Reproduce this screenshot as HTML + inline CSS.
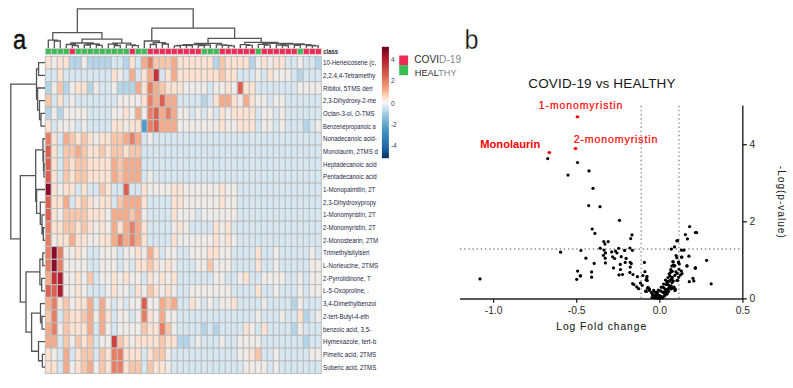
<!DOCTYPE html>
<html><head><meta charset="utf-8"><title>Figure</title>
<style>
html,body{margin:0;padding:0;background:#fff;}
body{width:793px;height:388px;overflow:hidden;}
svg{display:block;}
text{font-family:"Liberation Sans", sans-serif;}
</style></head><body>
<svg width="793" height="388" viewBox="0 0 793 388">
<rect x="0" y="0" width="793" height="388" fill="#ffffff"/>

<g stroke="#bdbdbd" stroke-width="1">
<rect x="45.30" y="56.30" width="6.00" height="12.69" fill="#fde2d1"/>
<rect x="51.30" y="56.30" width="6.00" height="12.69" fill="#efebe9"/>
<rect x="57.30" y="56.30" width="6.00" height="12.69" fill="#fde2d1"/>
<rect x="63.30" y="56.30" width="6.00" height="12.69" fill="#fde2d1"/>
<rect x="69.30" y="56.30" width="6.00" height="12.69" fill="#b3d5ea"/>
<rect x="75.30" y="56.30" width="6.00" height="12.69" fill="#b3d5ea"/>
<rect x="81.30" y="56.30" width="6.00" height="12.69" fill="#efebe9"/>
<rect x="87.30" y="56.30" width="6.00" height="12.69" fill="#b3d5ea"/>
<rect x="93.30" y="56.30" width="6.00" height="12.69" fill="#b3d5ea"/>
<rect x="99.30" y="56.30" width="6.00" height="12.69" fill="#b3d5ea"/>
<rect x="105.30" y="56.30" width="6.00" height="12.69" fill="#b3d5ea"/>
<rect x="111.30" y="56.30" width="6.00" height="12.69" fill="#d6e7f2"/>
<rect x="117.30" y="56.30" width="6.00" height="12.69" fill="#d6e7f2"/>
<rect x="123.30" y="56.30" width="6.00" height="12.69" fill="#b3d5ea"/>
<rect x="129.30" y="56.30" width="6.00" height="12.69" fill="#fde2d1"/>
<rect x="135.30" y="56.30" width="6.00" height="12.69" fill="#d6e7f2"/>
<rect x="141.30" y="56.30" width="6.00" height="12.69" fill="#f5ab89"/>
<rect x="147.30" y="56.30" width="6.00" height="12.69" fill="#e77f65"/>
<rect x="153.30" y="56.30" width="6.00" height="12.69" fill="#f9c6aa"/>
<rect x="159.30" y="56.30" width="6.00" height="12.69" fill="#f9c6aa"/>
<rect x="165.30" y="56.30" width="6.00" height="12.69" fill="#f9c6aa"/>
<rect x="171.30" y="56.30" width="6.00" height="12.69" fill="#f5ab89"/>
<rect x="177.30" y="56.30" width="6.00" height="12.69" fill="#fde2d1"/>
<rect x="183.30" y="56.30" width="6.00" height="12.69" fill="#fde2d1"/>
<rect x="189.30" y="56.30" width="6.00" height="12.69" fill="#fde2d1"/>
<rect x="195.30" y="56.30" width="6.00" height="12.69" fill="#fde2d1"/>
<rect x="201.30" y="56.30" width="6.00" height="12.69" fill="#fde2d1"/>
<rect x="207.30" y="56.30" width="6.00" height="12.69" fill="#fde2d1"/>
<rect x="213.30" y="56.30" width="6.00" height="12.69" fill="#b3d5ea"/>
<rect x="219.30" y="56.30" width="6.00" height="12.69" fill="#f9c6aa"/>
<rect x="225.30" y="56.30" width="6.00" height="12.69" fill="#fde2d1"/>
<rect x="231.30" y="56.30" width="6.00" height="12.69" fill="#fde2d1"/>
<rect x="237.30" y="56.30" width="6.00" height="12.69" fill="#fde2d1"/>
<rect x="243.30" y="56.30" width="6.00" height="12.69" fill="#fde2d1"/>
<rect x="249.30" y="56.30" width="6.00" height="12.69" fill="#b3d5ea"/>
<rect x="255.30" y="56.30" width="6.00" height="12.69" fill="#efebe9"/>
<rect x="261.30" y="56.30" width="6.00" height="12.69" fill="#fde2d1"/>
<rect x="267.30" y="56.30" width="6.00" height="12.69" fill="#efebe9"/>
<rect x="273.30" y="56.30" width="6.00" height="12.69" fill="#fde2d1"/>
<rect x="279.30" y="56.30" width="6.00" height="12.69" fill="#fde2d1"/>
<rect x="285.30" y="56.30" width="6.00" height="12.69" fill="#d6e7f2"/>
<rect x="291.30" y="56.30" width="6.00" height="12.69" fill="#d6e7f2"/>
<rect x="297.30" y="56.30" width="6.00" height="12.69" fill="#efebe9"/>
<rect x="303.30" y="56.30" width="6.00" height="12.69" fill="#d6e7f2"/>
<rect x="309.30" y="56.30" width="6.00" height="12.69" fill="#d6e7f2"/>
<rect x="315.30" y="56.30" width="6.00" height="12.69" fill="#b3d5ea"/>
<rect x="45.30" y="68.98" width="6.00" height="12.69" fill="#d6e7f2"/>
<rect x="51.30" y="68.98" width="6.00" height="12.69" fill="#d6e7f2"/>
<rect x="57.30" y="68.98" width="6.00" height="12.69" fill="#fde2d1"/>
<rect x="63.30" y="68.98" width="6.00" height="12.69" fill="#d6e7f2"/>
<rect x="69.30" y="68.98" width="6.00" height="12.69" fill="#d6e7f2"/>
<rect x="75.30" y="68.98" width="6.00" height="12.69" fill="#d6e7f2"/>
<rect x="81.30" y="68.98" width="6.00" height="12.69" fill="#d6e7f2"/>
<rect x="87.30" y="68.98" width="6.00" height="12.69" fill="#d6e7f2"/>
<rect x="93.30" y="68.98" width="6.00" height="12.69" fill="#d6e7f2"/>
<rect x="99.30" y="68.98" width="6.00" height="12.69" fill="#d6e7f2"/>
<rect x="105.30" y="68.98" width="6.00" height="12.69" fill="#d6e7f2"/>
<rect x="111.30" y="68.98" width="6.00" height="12.69" fill="#fde2d1"/>
<rect x="117.30" y="68.98" width="6.00" height="12.69" fill="#efebe9"/>
<rect x="123.30" y="68.98" width="6.00" height="12.69" fill="#d6e7f2"/>
<rect x="129.30" y="68.98" width="6.00" height="12.69" fill="#f5ab89"/>
<rect x="135.30" y="68.98" width="6.00" height="12.69" fill="#d6e7f2"/>
<rect x="141.30" y="68.98" width="6.00" height="12.69" fill="#fde2d1"/>
<rect x="147.30" y="68.98" width="6.00" height="12.69" fill="#f5ab89"/>
<rect x="153.30" y="68.98" width="6.00" height="12.69" fill="#c5303b"/>
<rect x="159.30" y="68.98" width="6.00" height="12.69" fill="#d6e7f2"/>
<rect x="165.30" y="68.98" width="6.00" height="12.69" fill="#fde2d1"/>
<rect x="171.30" y="68.98" width="6.00" height="12.69" fill="#f5ab89"/>
<rect x="177.30" y="68.98" width="6.00" height="12.69" fill="#fde2d1"/>
<rect x="183.30" y="68.98" width="6.00" height="12.69" fill="#fde2d1"/>
<rect x="189.30" y="68.98" width="6.00" height="12.69" fill="#fde2d1"/>
<rect x="195.30" y="68.98" width="6.00" height="12.69" fill="#fde2d1"/>
<rect x="201.30" y="68.98" width="6.00" height="12.69" fill="#fde2d1"/>
<rect x="207.30" y="68.98" width="6.00" height="12.69" fill="#fde2d1"/>
<rect x="213.30" y="68.98" width="6.00" height="12.69" fill="#fde2d1"/>
<rect x="219.30" y="68.98" width="6.00" height="12.69" fill="#f9c6aa"/>
<rect x="225.30" y="68.98" width="6.00" height="12.69" fill="#fde2d1"/>
<rect x="231.30" y="68.98" width="6.00" height="12.69" fill="#fde2d1"/>
<rect x="237.30" y="68.98" width="6.00" height="12.69" fill="#d6e7f2"/>
<rect x="243.30" y="68.98" width="6.00" height="12.69" fill="#d6e7f2"/>
<rect x="249.30" y="68.98" width="6.00" height="12.69" fill="#d6e7f2"/>
<rect x="255.30" y="68.98" width="6.00" height="12.69" fill="#efebe9"/>
<rect x="261.30" y="68.98" width="6.00" height="12.69" fill="#d6e7f2"/>
<rect x="267.30" y="68.98" width="6.00" height="12.69" fill="#fde2d1"/>
<rect x="273.30" y="68.98" width="6.00" height="12.69" fill="#efebe9"/>
<rect x="279.30" y="68.98" width="6.00" height="12.69" fill="#efebe9"/>
<rect x="285.30" y="68.98" width="6.00" height="12.69" fill="#efebe9"/>
<rect x="291.30" y="68.98" width="6.00" height="12.69" fill="#d6e7f2"/>
<rect x="297.30" y="68.98" width="6.00" height="12.69" fill="#b3d5ea"/>
<rect x="303.30" y="68.98" width="6.00" height="12.69" fill="#d6e7f2"/>
<rect x="309.30" y="68.98" width="6.00" height="12.69" fill="#d6e7f2"/>
<rect x="315.30" y="68.98" width="6.00" height="12.69" fill="#d6e7f2"/>
<rect x="45.30" y="81.67" width="6.00" height="12.69" fill="#b3d5ea"/>
<rect x="51.30" y="81.67" width="6.00" height="12.69" fill="#efebe9"/>
<rect x="57.30" y="81.67" width="6.00" height="12.69" fill="#f9c6aa"/>
<rect x="63.30" y="81.67" width="6.00" height="12.69" fill="#b3d5ea"/>
<rect x="69.30" y="81.67" width="6.00" height="12.69" fill="#efebe9"/>
<rect x="75.30" y="81.67" width="6.00" height="12.69" fill="#fde2d1"/>
<rect x="81.30" y="81.67" width="6.00" height="12.69" fill="#fde2d1"/>
<rect x="87.30" y="81.67" width="6.00" height="12.69" fill="#b3d5ea"/>
<rect x="93.30" y="81.67" width="6.00" height="12.69" fill="#efebe9"/>
<rect x="99.30" y="81.67" width="6.00" height="12.69" fill="#d6e7f2"/>
<rect x="105.30" y="81.67" width="6.00" height="12.69" fill="#d6e7f2"/>
<rect x="111.30" y="81.67" width="6.00" height="12.69" fill="#efebe9"/>
<rect x="117.30" y="81.67" width="6.00" height="12.69" fill="#b3d5ea"/>
<rect x="123.30" y="81.67" width="6.00" height="12.69" fill="#b3d5ea"/>
<rect x="129.30" y="81.67" width="6.00" height="12.69" fill="#b3d5ea"/>
<rect x="135.30" y="81.67" width="6.00" height="12.69" fill="#f5ab89"/>
<rect x="141.30" y="81.67" width="6.00" height="12.69" fill="#fde2d1"/>
<rect x="147.30" y="81.67" width="6.00" height="12.69" fill="#e77f65"/>
<rect x="153.30" y="81.67" width="6.00" height="12.69" fill="#f5ab89"/>
<rect x="159.30" y="81.67" width="6.00" height="12.69" fill="#f9c6aa"/>
<rect x="165.30" y="81.67" width="6.00" height="12.69" fill="#fde2d1"/>
<rect x="171.30" y="81.67" width="6.00" height="12.69" fill="#fde2d1"/>
<rect x="177.30" y="81.67" width="6.00" height="12.69" fill="#fde2d1"/>
<rect x="183.30" y="81.67" width="6.00" height="12.69" fill="#efebe9"/>
<rect x="189.30" y="81.67" width="6.00" height="12.69" fill="#efebe9"/>
<rect x="195.30" y="81.67" width="6.00" height="12.69" fill="#efebe9"/>
<rect x="201.30" y="81.67" width="6.00" height="12.69" fill="#efebe9"/>
<rect x="207.30" y="81.67" width="6.00" height="12.69" fill="#d6e7f2"/>
<rect x="213.30" y="81.67" width="6.00" height="12.69" fill="#efebe9"/>
<rect x="219.30" y="81.67" width="6.00" height="12.69" fill="#efebe9"/>
<rect x="225.30" y="81.67" width="6.00" height="12.69" fill="#fde2d1"/>
<rect x="231.30" y="81.67" width="6.00" height="12.69" fill="#efebe9"/>
<rect x="237.30" y="81.67" width="6.00" height="12.69" fill="#dc604f"/>
<rect x="243.30" y="81.67" width="6.00" height="12.69" fill="#fde2d1"/>
<rect x="249.30" y="81.67" width="6.00" height="12.69" fill="#fde2d1"/>
<rect x="255.30" y="81.67" width="6.00" height="12.69" fill="#d6e7f2"/>
<rect x="261.30" y="81.67" width="6.00" height="12.69" fill="#d6e7f2"/>
<rect x="267.30" y="81.67" width="6.00" height="12.69" fill="#d6e7f2"/>
<rect x="273.30" y="81.67" width="6.00" height="12.69" fill="#d6e7f2"/>
<rect x="279.30" y="81.67" width="6.00" height="12.69" fill="#d6e7f2"/>
<rect x="285.30" y="81.67" width="6.00" height="12.69" fill="#d6e7f2"/>
<rect x="291.30" y="81.67" width="6.00" height="12.69" fill="#d6e7f2"/>
<rect x="297.30" y="81.67" width="6.00" height="12.69" fill="#efebe9"/>
<rect x="303.30" y="81.67" width="6.00" height="12.69" fill="#efebe9"/>
<rect x="309.30" y="81.67" width="6.00" height="12.69" fill="#efebe9"/>
<rect x="315.30" y="81.67" width="6.00" height="12.69" fill="#efebe9"/>
<rect x="45.30" y="94.35" width="6.00" height="12.69" fill="#f9c6aa"/>
<rect x="51.30" y="94.35" width="6.00" height="12.69" fill="#d6e7f2"/>
<rect x="57.30" y="94.35" width="6.00" height="12.69" fill="#fde2d1"/>
<rect x="63.30" y="94.35" width="6.00" height="12.69" fill="#d6e7f2"/>
<rect x="69.30" y="94.35" width="6.00" height="12.69" fill="#efebe9"/>
<rect x="75.30" y="94.35" width="6.00" height="12.69" fill="#d6e7f2"/>
<rect x="81.30" y="94.35" width="6.00" height="12.69" fill="#d6e7f2"/>
<rect x="87.30" y="94.35" width="6.00" height="12.69" fill="#d6e7f2"/>
<rect x="93.30" y="94.35" width="6.00" height="12.69" fill="#d6e7f2"/>
<rect x="99.30" y="94.35" width="6.00" height="12.69" fill="#d6e7f2"/>
<rect x="105.30" y="94.35" width="6.00" height="12.69" fill="#d6e7f2"/>
<rect x="111.30" y="94.35" width="6.00" height="12.69" fill="#d6e7f2"/>
<rect x="117.30" y="94.35" width="6.00" height="12.69" fill="#efebe9"/>
<rect x="123.30" y="94.35" width="6.00" height="12.69" fill="#efebe9"/>
<rect x="129.30" y="94.35" width="6.00" height="12.69" fill="#efebe9"/>
<rect x="135.30" y="94.35" width="6.00" height="12.69" fill="#efebe9"/>
<rect x="141.30" y="94.35" width="6.00" height="12.69" fill="#fde2d1"/>
<rect x="147.30" y="94.35" width="6.00" height="12.69" fill="#e77f65"/>
<rect x="153.30" y="94.35" width="6.00" height="12.69" fill="#f5ab89"/>
<rect x="159.30" y="94.35" width="6.00" height="12.69" fill="#dc604f"/>
<rect x="165.30" y="94.35" width="6.00" height="12.69" fill="#f5ab89"/>
<rect x="171.30" y="94.35" width="6.00" height="12.69" fill="#f5ab89"/>
<rect x="177.30" y="94.35" width="6.00" height="12.69" fill="#d6e7f2"/>
<rect x="183.30" y="94.35" width="6.00" height="12.69" fill="#d6e7f2"/>
<rect x="189.30" y="94.35" width="6.00" height="12.69" fill="#d6e7f2"/>
<rect x="195.30" y="94.35" width="6.00" height="12.69" fill="#d6e7f2"/>
<rect x="201.30" y="94.35" width="6.00" height="12.69" fill="#b3d5ea"/>
<rect x="207.30" y="94.35" width="6.00" height="12.69" fill="#d6e7f2"/>
<rect x="213.30" y="94.35" width="6.00" height="12.69" fill="#fde2d1"/>
<rect x="219.30" y="94.35" width="6.00" height="12.69" fill="#f5ab89"/>
<rect x="225.30" y="94.35" width="6.00" height="12.69" fill="#f5ab89"/>
<rect x="231.30" y="94.35" width="6.00" height="12.69" fill="#fde2d1"/>
<rect x="237.30" y="94.35" width="6.00" height="12.69" fill="#efebe9"/>
<rect x="243.30" y="94.35" width="6.00" height="12.69" fill="#f5ab89"/>
<rect x="249.30" y="94.35" width="6.00" height="12.69" fill="#fde2d1"/>
<rect x="255.30" y="94.35" width="6.00" height="12.69" fill="#efebe9"/>
<rect x="261.30" y="94.35" width="6.00" height="12.69" fill="#efebe9"/>
<rect x="267.30" y="94.35" width="6.00" height="12.69" fill="#d6e7f2"/>
<rect x="273.30" y="94.35" width="6.00" height="12.69" fill="#efebe9"/>
<rect x="279.30" y="94.35" width="6.00" height="12.69" fill="#efebe9"/>
<rect x="285.30" y="94.35" width="6.00" height="12.69" fill="#d6e7f2"/>
<rect x="291.30" y="94.35" width="6.00" height="12.69" fill="#d6e7f2"/>
<rect x="297.30" y="94.35" width="6.00" height="12.69" fill="#d6e7f2"/>
<rect x="303.30" y="94.35" width="6.00" height="12.69" fill="#d6e7f2"/>
<rect x="309.30" y="94.35" width="6.00" height="12.69" fill="#d6e7f2"/>
<rect x="315.30" y="94.35" width="6.00" height="12.69" fill="#d6e7f2"/>
<rect x="45.30" y="107.04" width="6.00" height="12.69" fill="#b3d5ea"/>
<rect x="51.30" y="107.04" width="6.00" height="12.69" fill="#efebe9"/>
<rect x="57.30" y="107.04" width="6.00" height="12.69" fill="#b3d5ea"/>
<rect x="63.30" y="107.04" width="6.00" height="12.69" fill="#efebe9"/>
<rect x="69.30" y="107.04" width="6.00" height="12.69" fill="#efebe9"/>
<rect x="75.30" y="107.04" width="6.00" height="12.69" fill="#efebe9"/>
<rect x="81.30" y="107.04" width="6.00" height="12.69" fill="#efebe9"/>
<rect x="87.30" y="107.04" width="6.00" height="12.69" fill="#d6e7f2"/>
<rect x="93.30" y="107.04" width="6.00" height="12.69" fill="#d6e7f2"/>
<rect x="99.30" y="107.04" width="6.00" height="12.69" fill="#d6e7f2"/>
<rect x="105.30" y="107.04" width="6.00" height="12.69" fill="#d6e7f2"/>
<rect x="111.30" y="107.04" width="6.00" height="12.69" fill="#efebe9"/>
<rect x="117.30" y="107.04" width="6.00" height="12.69" fill="#efebe9"/>
<rect x="123.30" y="107.04" width="6.00" height="12.69" fill="#fde2d1"/>
<rect x="129.30" y="107.04" width="6.00" height="12.69" fill="#efebe9"/>
<rect x="135.30" y="107.04" width="6.00" height="12.69" fill="#f5ab89"/>
<rect x="141.30" y="107.04" width="6.00" height="12.69" fill="#efebe9"/>
<rect x="147.30" y="107.04" width="6.00" height="12.69" fill="#e77f65"/>
<rect x="153.30" y="107.04" width="6.00" height="12.69" fill="#dc604f"/>
<rect x="159.30" y="107.04" width="6.00" height="12.69" fill="#f5ab89"/>
<rect x="165.30" y="107.04" width="6.00" height="12.69" fill="#e77f65"/>
<rect x="171.30" y="107.04" width="6.00" height="12.69" fill="#f5ab89"/>
<rect x="177.30" y="107.04" width="6.00" height="12.69" fill="#efebe9"/>
<rect x="183.30" y="107.04" width="6.00" height="12.69" fill="#efebe9"/>
<rect x="189.30" y="107.04" width="6.00" height="12.69" fill="#d6e7f2"/>
<rect x="195.30" y="107.04" width="6.00" height="12.69" fill="#efebe9"/>
<rect x="201.30" y="107.04" width="6.00" height="12.69" fill="#d6e7f2"/>
<rect x="207.30" y="107.04" width="6.00" height="12.69" fill="#efebe9"/>
<rect x="213.30" y="107.04" width="6.00" height="12.69" fill="#d6e7f2"/>
<rect x="219.30" y="107.04" width="6.00" height="12.69" fill="#fde2d1"/>
<rect x="225.30" y="107.04" width="6.00" height="12.69" fill="#efebe9"/>
<rect x="231.30" y="107.04" width="6.00" height="12.69" fill="#fde2d1"/>
<rect x="237.30" y="107.04" width="6.00" height="12.69" fill="#fde2d1"/>
<rect x="243.30" y="107.04" width="6.00" height="12.69" fill="#fde2d1"/>
<rect x="249.30" y="107.04" width="6.00" height="12.69" fill="#fde2d1"/>
<rect x="255.30" y="107.04" width="6.00" height="12.69" fill="#d6e7f2"/>
<rect x="261.30" y="107.04" width="6.00" height="12.69" fill="#efebe9"/>
<rect x="267.30" y="107.04" width="6.00" height="12.69" fill="#efebe9"/>
<rect x="273.30" y="107.04" width="6.00" height="12.69" fill="#d6e7f2"/>
<rect x="279.30" y="107.04" width="6.00" height="12.69" fill="#efebe9"/>
<rect x="285.30" y="107.04" width="6.00" height="12.69" fill="#d6e7f2"/>
<rect x="291.30" y="107.04" width="6.00" height="12.69" fill="#d6e7f2"/>
<rect x="297.30" y="107.04" width="6.00" height="12.69" fill="#d6e7f2"/>
<rect x="303.30" y="107.04" width="6.00" height="12.69" fill="#d6e7f2"/>
<rect x="309.30" y="107.04" width="6.00" height="12.69" fill="#d6e7f2"/>
<rect x="315.30" y="107.04" width="6.00" height="12.69" fill="#d6e7f2"/>
<rect x="45.30" y="119.72" width="6.00" height="12.69" fill="#fde2d1"/>
<rect x="51.30" y="119.72" width="6.00" height="12.69" fill="#d6e7f2"/>
<rect x="57.30" y="119.72" width="6.00" height="12.69" fill="#efebe9"/>
<rect x="63.30" y="119.72" width="6.00" height="12.69" fill="#efebe9"/>
<rect x="69.30" y="119.72" width="6.00" height="12.69" fill="#efebe9"/>
<rect x="75.30" y="119.72" width="6.00" height="12.69" fill="#d6e7f2"/>
<rect x="81.30" y="119.72" width="6.00" height="12.69" fill="#efebe9"/>
<rect x="87.30" y="119.72" width="6.00" height="12.69" fill="#d6e7f2"/>
<rect x="93.30" y="119.72" width="6.00" height="12.69" fill="#d6e7f2"/>
<rect x="99.30" y="119.72" width="6.00" height="12.69" fill="#d6e7f2"/>
<rect x="105.30" y="119.72" width="6.00" height="12.69" fill="#d6e7f2"/>
<rect x="111.30" y="119.72" width="6.00" height="12.69" fill="#fde2d1"/>
<rect x="117.30" y="119.72" width="6.00" height="12.69" fill="#fde2d1"/>
<rect x="123.30" y="119.72" width="6.00" height="12.69" fill="#efebe9"/>
<rect x="129.30" y="119.72" width="6.00" height="12.69" fill="#fde2d1"/>
<rect x="135.30" y="119.72" width="6.00" height="12.69" fill="#fde2d1"/>
<rect x="141.30" y="119.72" width="6.00" height="12.69" fill="#4f9ccf"/>
<rect x="147.30" y="119.72" width="6.00" height="12.69" fill="#e77f65"/>
<rect x="153.30" y="119.72" width="6.00" height="12.69" fill="#dc604f"/>
<rect x="159.30" y="119.72" width="6.00" height="12.69" fill="#f5ab89"/>
<rect x="165.30" y="119.72" width="6.00" height="12.69" fill="#f5ab89"/>
<rect x="171.30" y="119.72" width="6.00" height="12.69" fill="#f5ab89"/>
<rect x="177.30" y="119.72" width="6.00" height="12.69" fill="#efebe9"/>
<rect x="183.30" y="119.72" width="6.00" height="12.69" fill="#efebe9"/>
<rect x="189.30" y="119.72" width="6.00" height="12.69" fill="#efebe9"/>
<rect x="195.30" y="119.72" width="6.00" height="12.69" fill="#efebe9"/>
<rect x="201.30" y="119.72" width="6.00" height="12.69" fill="#efebe9"/>
<rect x="207.30" y="119.72" width="6.00" height="12.69" fill="#efebe9"/>
<rect x="213.30" y="119.72" width="6.00" height="12.69" fill="#efebe9"/>
<rect x="219.30" y="119.72" width="6.00" height="12.69" fill="#fde2d1"/>
<rect x="225.30" y="119.72" width="6.00" height="12.69" fill="#efebe9"/>
<rect x="231.30" y="119.72" width="6.00" height="12.69" fill="#efebe9"/>
<rect x="237.30" y="119.72" width="6.00" height="12.69" fill="#fde2d1"/>
<rect x="243.30" y="119.72" width="6.00" height="12.69" fill="#fde2d1"/>
<rect x="249.30" y="119.72" width="6.00" height="12.69" fill="#fde2d1"/>
<rect x="255.30" y="119.72" width="6.00" height="12.69" fill="#d6e7f2"/>
<rect x="261.30" y="119.72" width="6.00" height="12.69" fill="#efebe9"/>
<rect x="267.30" y="119.72" width="6.00" height="12.69" fill="#efebe9"/>
<rect x="273.30" y="119.72" width="6.00" height="12.69" fill="#d6e7f2"/>
<rect x="279.30" y="119.72" width="6.00" height="12.69" fill="#efebe9"/>
<rect x="285.30" y="119.72" width="6.00" height="12.69" fill="#d6e7f2"/>
<rect x="291.30" y="119.72" width="6.00" height="12.69" fill="#d6e7f2"/>
<rect x="297.30" y="119.72" width="6.00" height="12.69" fill="#d6e7f2"/>
<rect x="303.30" y="119.72" width="6.00" height="12.69" fill="#b3d5ea"/>
<rect x="309.30" y="119.72" width="6.00" height="12.69" fill="#d6e7f2"/>
<rect x="315.30" y="119.72" width="6.00" height="12.69" fill="#efebe9"/>
<rect x="45.30" y="132.41" width="6.00" height="12.69" fill="#e77f65"/>
<rect x="51.30" y="132.41" width="6.00" height="12.69" fill="#fde2d1"/>
<rect x="57.30" y="132.41" width="6.00" height="12.69" fill="#d6e7f2"/>
<rect x="63.30" y="132.41" width="6.00" height="12.69" fill="#f5ab89"/>
<rect x="69.30" y="132.41" width="6.00" height="12.69" fill="#f9c6aa"/>
<rect x="75.30" y="132.41" width="6.00" height="12.69" fill="#fde2d1"/>
<rect x="81.30" y="132.41" width="6.00" height="12.69" fill="#f9c6aa"/>
<rect x="87.30" y="132.41" width="6.00" height="12.69" fill="#fde2d1"/>
<rect x="93.30" y="132.41" width="6.00" height="12.69" fill="#efebe9"/>
<rect x="99.30" y="132.41" width="6.00" height="12.69" fill="#fde2d1"/>
<rect x="105.30" y="132.41" width="6.00" height="12.69" fill="#fde2d1"/>
<rect x="111.30" y="132.41" width="6.00" height="12.69" fill="#f9c6aa"/>
<rect x="117.30" y="132.41" width="6.00" height="12.69" fill="#f9c6aa"/>
<rect x="123.30" y="132.41" width="6.00" height="12.69" fill="#f5ab89"/>
<rect x="129.30" y="132.41" width="6.00" height="12.69" fill="#e77f65"/>
<rect x="135.30" y="132.41" width="6.00" height="12.69" fill="#f5ab89"/>
<rect x="141.30" y="132.41" width="6.00" height="12.69" fill="#d6e7f2"/>
<rect x="147.30" y="132.41" width="6.00" height="12.69" fill="#efebe9"/>
<rect x="153.30" y="132.41" width="6.00" height="12.69" fill="#d6e7f2"/>
<rect x="159.30" y="132.41" width="6.00" height="12.69" fill="#d6e7f2"/>
<rect x="165.30" y="132.41" width="6.00" height="12.69" fill="#d6e7f2"/>
<rect x="171.30" y="132.41" width="6.00" height="12.69" fill="#d6e7f2"/>
<rect x="177.30" y="132.41" width="6.00" height="12.69" fill="#d6e7f2"/>
<rect x="183.30" y="132.41" width="6.00" height="12.69" fill="#d6e7f2"/>
<rect x="189.30" y="132.41" width="6.00" height="12.69" fill="#d6e7f2"/>
<rect x="195.30" y="132.41" width="6.00" height="12.69" fill="#d6e7f2"/>
<rect x="201.30" y="132.41" width="6.00" height="12.69" fill="#d6e7f2"/>
<rect x="207.30" y="132.41" width="6.00" height="12.69" fill="#d6e7f2"/>
<rect x="213.30" y="132.41" width="6.00" height="12.69" fill="#d6e7f2"/>
<rect x="219.30" y="132.41" width="6.00" height="12.69" fill="#d6e7f2"/>
<rect x="225.30" y="132.41" width="6.00" height="12.69" fill="#d6e7f2"/>
<rect x="231.30" y="132.41" width="6.00" height="12.69" fill="#d6e7f2"/>
<rect x="237.30" y="132.41" width="6.00" height="12.69" fill="#d6e7f2"/>
<rect x="243.30" y="132.41" width="6.00" height="12.69" fill="#d6e7f2"/>
<rect x="249.30" y="132.41" width="6.00" height="12.69" fill="#d6e7f2"/>
<rect x="255.30" y="132.41" width="6.00" height="12.69" fill="#d6e7f2"/>
<rect x="261.30" y="132.41" width="6.00" height="12.69" fill="#d6e7f2"/>
<rect x="267.30" y="132.41" width="6.00" height="12.69" fill="#d6e7f2"/>
<rect x="273.30" y="132.41" width="6.00" height="12.69" fill="#d6e7f2"/>
<rect x="279.30" y="132.41" width="6.00" height="12.69" fill="#d6e7f2"/>
<rect x="285.30" y="132.41" width="6.00" height="12.69" fill="#d6e7f2"/>
<rect x="291.30" y="132.41" width="6.00" height="12.69" fill="#d6e7f2"/>
<rect x="297.30" y="132.41" width="6.00" height="12.69" fill="#d6e7f2"/>
<rect x="303.30" y="132.41" width="6.00" height="12.69" fill="#d6e7f2"/>
<rect x="309.30" y="132.41" width="6.00" height="12.69" fill="#d6e7f2"/>
<rect x="315.30" y="132.41" width="6.00" height="12.69" fill="#d6e7f2"/>
<rect x="45.30" y="145.09" width="6.00" height="12.69" fill="#dc604f"/>
<rect x="51.30" y="145.09" width="6.00" height="12.69" fill="#fde2d1"/>
<rect x="57.30" y="145.09" width="6.00" height="12.69" fill="#d6e7f2"/>
<rect x="63.30" y="145.09" width="6.00" height="12.69" fill="#f9c6aa"/>
<rect x="69.30" y="145.09" width="6.00" height="12.69" fill="#f9c6aa"/>
<rect x="75.30" y="145.09" width="6.00" height="12.69" fill="#f5ab89"/>
<rect x="81.30" y="145.09" width="6.00" height="12.69" fill="#f9c6aa"/>
<rect x="87.30" y="145.09" width="6.00" height="12.69" fill="#fde2d1"/>
<rect x="93.30" y="145.09" width="6.00" height="12.69" fill="#fde2d1"/>
<rect x="99.30" y="145.09" width="6.00" height="12.69" fill="#f9c6aa"/>
<rect x="105.30" y="145.09" width="6.00" height="12.69" fill="#fde2d1"/>
<rect x="111.30" y="145.09" width="6.00" height="12.69" fill="#f9c6aa"/>
<rect x="117.30" y="145.09" width="6.00" height="12.69" fill="#f9c6aa"/>
<rect x="123.30" y="145.09" width="6.00" height="12.69" fill="#fde2d1"/>
<rect x="129.30" y="145.09" width="6.00" height="12.69" fill="#f9c6aa"/>
<rect x="135.30" y="145.09" width="6.00" height="12.69" fill="#f9c6aa"/>
<rect x="141.30" y="145.09" width="6.00" height="12.69" fill="#d6e7f2"/>
<rect x="147.30" y="145.09" width="6.00" height="12.69" fill="#d6e7f2"/>
<rect x="153.30" y="145.09" width="6.00" height="12.69" fill="#d6e7f2"/>
<rect x="159.30" y="145.09" width="6.00" height="12.69" fill="#d6e7f2"/>
<rect x="165.30" y="145.09" width="6.00" height="12.69" fill="#d6e7f2"/>
<rect x="171.30" y="145.09" width="6.00" height="12.69" fill="#d6e7f2"/>
<rect x="177.30" y="145.09" width="6.00" height="12.69" fill="#d6e7f2"/>
<rect x="183.30" y="145.09" width="6.00" height="12.69" fill="#d6e7f2"/>
<rect x="189.30" y="145.09" width="6.00" height="12.69" fill="#d6e7f2"/>
<rect x="195.30" y="145.09" width="6.00" height="12.69" fill="#d6e7f2"/>
<rect x="201.30" y="145.09" width="6.00" height="12.69" fill="#d6e7f2"/>
<rect x="207.30" y="145.09" width="6.00" height="12.69" fill="#d6e7f2"/>
<rect x="213.30" y="145.09" width="6.00" height="12.69" fill="#d6e7f2"/>
<rect x="219.30" y="145.09" width="6.00" height="12.69" fill="#d6e7f2"/>
<rect x="225.30" y="145.09" width="6.00" height="12.69" fill="#d6e7f2"/>
<rect x="231.30" y="145.09" width="6.00" height="12.69" fill="#d6e7f2"/>
<rect x="237.30" y="145.09" width="6.00" height="12.69" fill="#d6e7f2"/>
<rect x="243.30" y="145.09" width="6.00" height="12.69" fill="#d6e7f2"/>
<rect x="249.30" y="145.09" width="6.00" height="12.69" fill="#d6e7f2"/>
<rect x="255.30" y="145.09" width="6.00" height="12.69" fill="#d6e7f2"/>
<rect x="261.30" y="145.09" width="6.00" height="12.69" fill="#d6e7f2"/>
<rect x="267.30" y="145.09" width="6.00" height="12.69" fill="#d6e7f2"/>
<rect x="273.30" y="145.09" width="6.00" height="12.69" fill="#d6e7f2"/>
<rect x="279.30" y="145.09" width="6.00" height="12.69" fill="#d6e7f2"/>
<rect x="285.30" y="145.09" width="6.00" height="12.69" fill="#d6e7f2"/>
<rect x="291.30" y="145.09" width="6.00" height="12.69" fill="#d6e7f2"/>
<rect x="297.30" y="145.09" width="6.00" height="12.69" fill="#d6e7f2"/>
<rect x="303.30" y="145.09" width="6.00" height="12.69" fill="#d6e7f2"/>
<rect x="309.30" y="145.09" width="6.00" height="12.69" fill="#d6e7f2"/>
<rect x="315.30" y="145.09" width="6.00" height="12.69" fill="#d6e7f2"/>
<rect x="45.30" y="157.78" width="6.00" height="12.69" fill="#dc604f"/>
<rect x="51.30" y="157.78" width="6.00" height="12.69" fill="#fde2d1"/>
<rect x="57.30" y="157.78" width="6.00" height="12.69" fill="#d6e7f2"/>
<rect x="63.30" y="157.78" width="6.00" height="12.69" fill="#f9c6aa"/>
<rect x="69.30" y="157.78" width="6.00" height="12.69" fill="#fde2d1"/>
<rect x="75.30" y="157.78" width="6.00" height="12.69" fill="#f9c6aa"/>
<rect x="81.30" y="157.78" width="6.00" height="12.69" fill="#f9c6aa"/>
<rect x="87.30" y="157.78" width="6.00" height="12.69" fill="#fde2d1"/>
<rect x="93.30" y="157.78" width="6.00" height="12.69" fill="#fde2d1"/>
<rect x="99.30" y="157.78" width="6.00" height="12.69" fill="#fde2d1"/>
<rect x="105.30" y="157.78" width="6.00" height="12.69" fill="#fde2d1"/>
<rect x="111.30" y="157.78" width="6.00" height="12.69" fill="#f5ab89"/>
<rect x="117.30" y="157.78" width="6.00" height="12.69" fill="#f9c6aa"/>
<rect x="123.30" y="157.78" width="6.00" height="12.69" fill="#f5ab89"/>
<rect x="129.30" y="157.78" width="6.00" height="12.69" fill="#f5ab89"/>
<rect x="135.30" y="157.78" width="6.00" height="12.69" fill="#f5ab89"/>
<rect x="141.30" y="157.78" width="6.00" height="12.69" fill="#d6e7f2"/>
<rect x="147.30" y="157.78" width="6.00" height="12.69" fill="#d6e7f2"/>
<rect x="153.30" y="157.78" width="6.00" height="12.69" fill="#d6e7f2"/>
<rect x="159.30" y="157.78" width="6.00" height="12.69" fill="#d6e7f2"/>
<rect x="165.30" y="157.78" width="6.00" height="12.69" fill="#d6e7f2"/>
<rect x="171.30" y="157.78" width="6.00" height="12.69" fill="#d6e7f2"/>
<rect x="177.30" y="157.78" width="6.00" height="12.69" fill="#d6e7f2"/>
<rect x="183.30" y="157.78" width="6.00" height="12.69" fill="#d6e7f2"/>
<rect x="189.30" y="157.78" width="6.00" height="12.69" fill="#d6e7f2"/>
<rect x="195.30" y="157.78" width="6.00" height="12.69" fill="#d6e7f2"/>
<rect x="201.30" y="157.78" width="6.00" height="12.69" fill="#d6e7f2"/>
<rect x="207.30" y="157.78" width="6.00" height="12.69" fill="#d6e7f2"/>
<rect x="213.30" y="157.78" width="6.00" height="12.69" fill="#d6e7f2"/>
<rect x="219.30" y="157.78" width="6.00" height="12.69" fill="#d6e7f2"/>
<rect x="225.30" y="157.78" width="6.00" height="12.69" fill="#d6e7f2"/>
<rect x="231.30" y="157.78" width="6.00" height="12.69" fill="#d6e7f2"/>
<rect x="237.30" y="157.78" width="6.00" height="12.69" fill="#d6e7f2"/>
<rect x="243.30" y="157.78" width="6.00" height="12.69" fill="#d6e7f2"/>
<rect x="249.30" y="157.78" width="6.00" height="12.69" fill="#d6e7f2"/>
<rect x="255.30" y="157.78" width="6.00" height="12.69" fill="#d6e7f2"/>
<rect x="261.30" y="157.78" width="6.00" height="12.69" fill="#d6e7f2"/>
<rect x="267.30" y="157.78" width="6.00" height="12.69" fill="#d6e7f2"/>
<rect x="273.30" y="157.78" width="6.00" height="12.69" fill="#d6e7f2"/>
<rect x="279.30" y="157.78" width="6.00" height="12.69" fill="#d6e7f2"/>
<rect x="285.30" y="157.78" width="6.00" height="12.69" fill="#d6e7f2"/>
<rect x="291.30" y="157.78" width="6.00" height="12.69" fill="#d6e7f2"/>
<rect x="297.30" y="157.78" width="6.00" height="12.69" fill="#d6e7f2"/>
<rect x="303.30" y="157.78" width="6.00" height="12.69" fill="#d6e7f2"/>
<rect x="309.30" y="157.78" width="6.00" height="12.69" fill="#d6e7f2"/>
<rect x="315.30" y="157.78" width="6.00" height="12.69" fill="#d6e7f2"/>
<rect x="45.30" y="170.47" width="6.00" height="12.69" fill="#dc604f"/>
<rect x="51.30" y="170.47" width="6.00" height="12.69" fill="#fde2d1"/>
<rect x="57.30" y="170.47" width="6.00" height="12.69" fill="#d6e7f2"/>
<rect x="63.30" y="170.47" width="6.00" height="12.69" fill="#f9c6aa"/>
<rect x="69.30" y="170.47" width="6.00" height="12.69" fill="#fde2d1"/>
<rect x="75.30" y="170.47" width="6.00" height="12.69" fill="#f9c6aa"/>
<rect x="81.30" y="170.47" width="6.00" height="12.69" fill="#f9c6aa"/>
<rect x="87.30" y="170.47" width="6.00" height="12.69" fill="#fde2d1"/>
<rect x="93.30" y="170.47" width="6.00" height="12.69" fill="#fde2d1"/>
<rect x="99.30" y="170.47" width="6.00" height="12.69" fill="#fde2d1"/>
<rect x="105.30" y="170.47" width="6.00" height="12.69" fill="#fde2d1"/>
<rect x="111.30" y="170.47" width="6.00" height="12.69" fill="#f5ab89"/>
<rect x="117.30" y="170.47" width="6.00" height="12.69" fill="#f9c6aa"/>
<rect x="123.30" y="170.47" width="6.00" height="12.69" fill="#f5ab89"/>
<rect x="129.30" y="170.47" width="6.00" height="12.69" fill="#f5ab89"/>
<rect x="135.30" y="170.47" width="6.00" height="12.69" fill="#f5ab89"/>
<rect x="141.30" y="170.47" width="6.00" height="12.69" fill="#d6e7f2"/>
<rect x="147.30" y="170.47" width="6.00" height="12.69" fill="#efebe9"/>
<rect x="153.30" y="170.47" width="6.00" height="12.69" fill="#d6e7f2"/>
<rect x="159.30" y="170.47" width="6.00" height="12.69" fill="#d6e7f2"/>
<rect x="165.30" y="170.47" width="6.00" height="12.69" fill="#d6e7f2"/>
<rect x="171.30" y="170.47" width="6.00" height="12.69" fill="#d6e7f2"/>
<rect x="177.30" y="170.47" width="6.00" height="12.69" fill="#d6e7f2"/>
<rect x="183.30" y="170.47" width="6.00" height="12.69" fill="#d6e7f2"/>
<rect x="189.30" y="170.47" width="6.00" height="12.69" fill="#d6e7f2"/>
<rect x="195.30" y="170.47" width="6.00" height="12.69" fill="#d6e7f2"/>
<rect x="201.30" y="170.47" width="6.00" height="12.69" fill="#d6e7f2"/>
<rect x="207.30" y="170.47" width="6.00" height="12.69" fill="#d6e7f2"/>
<rect x="213.30" y="170.47" width="6.00" height="12.69" fill="#d6e7f2"/>
<rect x="219.30" y="170.47" width="6.00" height="12.69" fill="#d6e7f2"/>
<rect x="225.30" y="170.47" width="6.00" height="12.69" fill="#d6e7f2"/>
<rect x="231.30" y="170.47" width="6.00" height="12.69" fill="#d6e7f2"/>
<rect x="237.30" y="170.47" width="6.00" height="12.69" fill="#d6e7f2"/>
<rect x="243.30" y="170.47" width="6.00" height="12.69" fill="#d6e7f2"/>
<rect x="249.30" y="170.47" width="6.00" height="12.69" fill="#d6e7f2"/>
<rect x="255.30" y="170.47" width="6.00" height="12.69" fill="#d6e7f2"/>
<rect x="261.30" y="170.47" width="6.00" height="12.69" fill="#d6e7f2"/>
<rect x="267.30" y="170.47" width="6.00" height="12.69" fill="#d6e7f2"/>
<rect x="273.30" y="170.47" width="6.00" height="12.69" fill="#d6e7f2"/>
<rect x="279.30" y="170.47" width="6.00" height="12.69" fill="#d6e7f2"/>
<rect x="285.30" y="170.47" width="6.00" height="12.69" fill="#d6e7f2"/>
<rect x="291.30" y="170.47" width="6.00" height="12.69" fill="#d6e7f2"/>
<rect x="297.30" y="170.47" width="6.00" height="12.69" fill="#d6e7f2"/>
<rect x="303.30" y="170.47" width="6.00" height="12.69" fill="#d6e7f2"/>
<rect x="309.30" y="170.47" width="6.00" height="12.69" fill="#d6e7f2"/>
<rect x="315.30" y="170.47" width="6.00" height="12.69" fill="#d6e7f2"/>
<rect x="45.30" y="183.15" width="6.00" height="12.69" fill="#8a0c28"/>
<rect x="51.30" y="183.15" width="6.00" height="12.69" fill="#fde2d1"/>
<rect x="57.30" y="183.15" width="6.00" height="12.69" fill="#efebe9"/>
<rect x="63.30" y="183.15" width="6.00" height="12.69" fill="#fde2d1"/>
<rect x="69.30" y="183.15" width="6.00" height="12.69" fill="#fde2d1"/>
<rect x="75.30" y="183.15" width="6.00" height="12.69" fill="#d6e7f2"/>
<rect x="81.30" y="183.15" width="6.00" height="12.69" fill="#fde2d1"/>
<rect x="87.30" y="183.15" width="6.00" height="12.69" fill="#d6e7f2"/>
<rect x="93.30" y="183.15" width="6.00" height="12.69" fill="#d6e7f2"/>
<rect x="99.30" y="183.15" width="6.00" height="12.69" fill="#f9c6aa"/>
<rect x="105.30" y="183.15" width="6.00" height="12.69" fill="#fde2d1"/>
<rect x="111.30" y="183.15" width="6.00" height="12.69" fill="#d6e7f2"/>
<rect x="117.30" y="183.15" width="6.00" height="12.69" fill="#d6e7f2"/>
<rect x="123.30" y="183.15" width="6.00" height="12.69" fill="#dc604f"/>
<rect x="129.30" y="183.15" width="6.00" height="12.69" fill="#d6e7f2"/>
<rect x="135.30" y="183.15" width="6.00" height="12.69" fill="#d6e7f2"/>
<rect x="141.30" y="183.15" width="6.00" height="12.69" fill="#fde2d1"/>
<rect x="147.30" y="183.15" width="6.00" height="12.69" fill="#efebe9"/>
<rect x="153.30" y="183.15" width="6.00" height="12.69" fill="#efebe9"/>
<rect x="159.30" y="183.15" width="6.00" height="12.69" fill="#efebe9"/>
<rect x="165.30" y="183.15" width="6.00" height="12.69" fill="#efebe9"/>
<rect x="171.30" y="183.15" width="6.00" height="12.69" fill="#fde2d1"/>
<rect x="177.30" y="183.15" width="6.00" height="12.69" fill="#fde2d1"/>
<rect x="183.30" y="183.15" width="6.00" height="12.69" fill="#efebe9"/>
<rect x="189.30" y="183.15" width="6.00" height="12.69" fill="#efebe9"/>
<rect x="195.30" y="183.15" width="6.00" height="12.69" fill="#efebe9"/>
<rect x="201.30" y="183.15" width="6.00" height="12.69" fill="#efebe9"/>
<rect x="207.30" y="183.15" width="6.00" height="12.69" fill="#efebe9"/>
<rect x="213.30" y="183.15" width="6.00" height="12.69" fill="#efebe9"/>
<rect x="219.30" y="183.15" width="6.00" height="12.69" fill="#fde2d1"/>
<rect x="225.30" y="183.15" width="6.00" height="12.69" fill="#efebe9"/>
<rect x="231.30" y="183.15" width="6.00" height="12.69" fill="#efebe9"/>
<rect x="237.30" y="183.15" width="6.00" height="12.69" fill="#d6e7f2"/>
<rect x="243.30" y="183.15" width="6.00" height="12.69" fill="#d6e7f2"/>
<rect x="249.30" y="183.15" width="6.00" height="12.69" fill="#d6e7f2"/>
<rect x="255.30" y="183.15" width="6.00" height="12.69" fill="#d6e7f2"/>
<rect x="261.30" y="183.15" width="6.00" height="12.69" fill="#d6e7f2"/>
<rect x="267.30" y="183.15" width="6.00" height="12.69" fill="#d6e7f2"/>
<rect x="273.30" y="183.15" width="6.00" height="12.69" fill="#d6e7f2"/>
<rect x="279.30" y="183.15" width="6.00" height="12.69" fill="#d6e7f2"/>
<rect x="285.30" y="183.15" width="6.00" height="12.69" fill="#d6e7f2"/>
<rect x="291.30" y="183.15" width="6.00" height="12.69" fill="#d6e7f2"/>
<rect x="297.30" y="183.15" width="6.00" height="12.69" fill="#d6e7f2"/>
<rect x="303.30" y="183.15" width="6.00" height="12.69" fill="#d6e7f2"/>
<rect x="309.30" y="183.15" width="6.00" height="12.69" fill="#d6e7f2"/>
<rect x="315.30" y="183.15" width="6.00" height="12.69" fill="#d6e7f2"/>
<rect x="45.30" y="195.83" width="6.00" height="12.69" fill="#dc604f"/>
<rect x="51.30" y="195.83" width="6.00" height="12.69" fill="#fde2d1"/>
<rect x="57.30" y="195.83" width="6.00" height="12.69" fill="#fde2d1"/>
<rect x="63.30" y="195.83" width="6.00" height="12.69" fill="#f5ab89"/>
<rect x="69.30" y="195.83" width="6.00" height="12.69" fill="#d6e7f2"/>
<rect x="75.30" y="195.83" width="6.00" height="12.69" fill="#fde2d1"/>
<rect x="81.30" y="195.83" width="6.00" height="12.69" fill="#f9c6aa"/>
<rect x="87.30" y="195.83" width="6.00" height="12.69" fill="#fde2d1"/>
<rect x="93.30" y="195.83" width="6.00" height="12.69" fill="#efebe9"/>
<rect x="99.30" y="195.83" width="6.00" height="12.69" fill="#fde2d1"/>
<rect x="105.30" y="195.83" width="6.00" height="12.69" fill="#fde2d1"/>
<rect x="111.30" y="195.83" width="6.00" height="12.69" fill="#d6e7f2"/>
<rect x="117.30" y="195.83" width="6.00" height="12.69" fill="#f9c6aa"/>
<rect x="123.30" y="195.83" width="6.00" height="12.69" fill="#f5ab89"/>
<rect x="129.30" y="195.83" width="6.00" height="12.69" fill="#f5ab89"/>
<rect x="135.30" y="195.83" width="6.00" height="12.69" fill="#f5ab89"/>
<rect x="141.30" y="195.83" width="6.00" height="12.69" fill="#fde2d1"/>
<rect x="147.30" y="195.83" width="6.00" height="12.69" fill="#d6e7f2"/>
<rect x="153.30" y="195.83" width="6.00" height="12.69" fill="#d6e7f2"/>
<rect x="159.30" y="195.83" width="6.00" height="12.69" fill="#d6e7f2"/>
<rect x="165.30" y="195.83" width="6.00" height="12.69" fill="#d6e7f2"/>
<rect x="171.30" y="195.83" width="6.00" height="12.69" fill="#fde2d1"/>
<rect x="177.30" y="195.83" width="6.00" height="12.69" fill="#fde2d1"/>
<rect x="183.30" y="195.83" width="6.00" height="12.69" fill="#efebe9"/>
<rect x="189.30" y="195.83" width="6.00" height="12.69" fill="#efebe9"/>
<rect x="195.30" y="195.83" width="6.00" height="12.69" fill="#efebe9"/>
<rect x="201.30" y="195.83" width="6.00" height="12.69" fill="#efebe9"/>
<rect x="207.30" y="195.83" width="6.00" height="12.69" fill="#efebe9"/>
<rect x="213.30" y="195.83" width="6.00" height="12.69" fill="#efebe9"/>
<rect x="219.30" y="195.83" width="6.00" height="12.69" fill="#fde2d1"/>
<rect x="225.30" y="195.83" width="6.00" height="12.69" fill="#efebe9"/>
<rect x="231.30" y="195.83" width="6.00" height="12.69" fill="#efebe9"/>
<rect x="237.30" y="195.83" width="6.00" height="12.69" fill="#d6e7f2"/>
<rect x="243.30" y="195.83" width="6.00" height="12.69" fill="#d6e7f2"/>
<rect x="249.30" y="195.83" width="6.00" height="12.69" fill="#d6e7f2"/>
<rect x="255.30" y="195.83" width="6.00" height="12.69" fill="#d6e7f2"/>
<rect x="261.30" y="195.83" width="6.00" height="12.69" fill="#d6e7f2"/>
<rect x="267.30" y="195.83" width="6.00" height="12.69" fill="#d6e7f2"/>
<rect x="273.30" y="195.83" width="6.00" height="12.69" fill="#d6e7f2"/>
<rect x="279.30" y="195.83" width="6.00" height="12.69" fill="#d6e7f2"/>
<rect x="285.30" y="195.83" width="6.00" height="12.69" fill="#d6e7f2"/>
<rect x="291.30" y="195.83" width="6.00" height="12.69" fill="#d6e7f2"/>
<rect x="297.30" y="195.83" width="6.00" height="12.69" fill="#d6e7f2"/>
<rect x="303.30" y="195.83" width="6.00" height="12.69" fill="#d6e7f2"/>
<rect x="309.30" y="195.83" width="6.00" height="12.69" fill="#d6e7f2"/>
<rect x="315.30" y="195.83" width="6.00" height="12.69" fill="#d6e7f2"/>
<rect x="45.30" y="208.52" width="6.00" height="12.69" fill="#dc604f"/>
<rect x="51.30" y="208.52" width="6.00" height="12.69" fill="#fde2d1"/>
<rect x="57.30" y="208.52" width="6.00" height="12.69" fill="#efebe9"/>
<rect x="63.30" y="208.52" width="6.00" height="12.69" fill="#f9c6aa"/>
<rect x="69.30" y="208.52" width="6.00" height="12.69" fill="#f9c6aa"/>
<rect x="75.30" y="208.52" width="6.00" height="12.69" fill="#f9c6aa"/>
<rect x="81.30" y="208.52" width="6.00" height="12.69" fill="#f9c6aa"/>
<rect x="87.30" y="208.52" width="6.00" height="12.69" fill="#fde2d1"/>
<rect x="93.30" y="208.52" width="6.00" height="12.69" fill="#fde2d1"/>
<rect x="99.30" y="208.52" width="6.00" height="12.69" fill="#fde2d1"/>
<rect x="105.30" y="208.52" width="6.00" height="12.69" fill="#efebe9"/>
<rect x="111.30" y="208.52" width="6.00" height="12.69" fill="#f5ab89"/>
<rect x="117.30" y="208.52" width="6.00" height="12.69" fill="#f5ab89"/>
<rect x="123.30" y="208.52" width="6.00" height="12.69" fill="#f5ab89"/>
<rect x="129.30" y="208.52" width="6.00" height="12.69" fill="#f9c6aa"/>
<rect x="135.30" y="208.52" width="6.00" height="12.69" fill="#f5ab89"/>
<rect x="141.30" y="208.52" width="6.00" height="12.69" fill="#efebe9"/>
<rect x="147.30" y="208.52" width="6.00" height="12.69" fill="#d6e7f2"/>
<rect x="153.30" y="208.52" width="6.00" height="12.69" fill="#d6e7f2"/>
<rect x="159.30" y="208.52" width="6.00" height="12.69" fill="#d6e7f2"/>
<rect x="165.30" y="208.52" width="6.00" height="12.69" fill="#d6e7f2"/>
<rect x="171.30" y="208.52" width="6.00" height="12.69" fill="#fde2d1"/>
<rect x="177.30" y="208.52" width="6.00" height="12.69" fill="#efebe9"/>
<rect x="183.30" y="208.52" width="6.00" height="12.69" fill="#efebe9"/>
<rect x="189.30" y="208.52" width="6.00" height="12.69" fill="#efebe9"/>
<rect x="195.30" y="208.52" width="6.00" height="12.69" fill="#d6e7f2"/>
<rect x="201.30" y="208.52" width="6.00" height="12.69" fill="#efebe9"/>
<rect x="207.30" y="208.52" width="6.00" height="12.69" fill="#efebe9"/>
<rect x="213.30" y="208.52" width="6.00" height="12.69" fill="#efebe9"/>
<rect x="219.30" y="208.52" width="6.00" height="12.69" fill="#efebe9"/>
<rect x="225.30" y="208.52" width="6.00" height="12.69" fill="#efebe9"/>
<rect x="231.30" y="208.52" width="6.00" height="12.69" fill="#efebe9"/>
<rect x="237.30" y="208.52" width="6.00" height="12.69" fill="#d6e7f2"/>
<rect x="243.30" y="208.52" width="6.00" height="12.69" fill="#d6e7f2"/>
<rect x="249.30" y="208.52" width="6.00" height="12.69" fill="#d6e7f2"/>
<rect x="255.30" y="208.52" width="6.00" height="12.69" fill="#d6e7f2"/>
<rect x="261.30" y="208.52" width="6.00" height="12.69" fill="#d6e7f2"/>
<rect x="267.30" y="208.52" width="6.00" height="12.69" fill="#d6e7f2"/>
<rect x="273.30" y="208.52" width="6.00" height="12.69" fill="#d6e7f2"/>
<rect x="279.30" y="208.52" width="6.00" height="12.69" fill="#d6e7f2"/>
<rect x="285.30" y="208.52" width="6.00" height="12.69" fill="#d6e7f2"/>
<rect x="291.30" y="208.52" width="6.00" height="12.69" fill="#d6e7f2"/>
<rect x="297.30" y="208.52" width="6.00" height="12.69" fill="#d6e7f2"/>
<rect x="303.30" y="208.52" width="6.00" height="12.69" fill="#d6e7f2"/>
<rect x="309.30" y="208.52" width="6.00" height="12.69" fill="#d6e7f2"/>
<rect x="315.30" y="208.52" width="6.00" height="12.69" fill="#d6e7f2"/>
<rect x="45.30" y="221.20" width="6.00" height="12.69" fill="#e77f65"/>
<rect x="51.30" y="221.20" width="6.00" height="12.69" fill="#fde2d1"/>
<rect x="57.30" y="221.20" width="6.00" height="12.69" fill="#fde2d1"/>
<rect x="63.30" y="221.20" width="6.00" height="12.69" fill="#f9c6aa"/>
<rect x="69.30" y="221.20" width="6.00" height="12.69" fill="#f9c6aa"/>
<rect x="75.30" y="221.20" width="6.00" height="12.69" fill="#fde2d1"/>
<rect x="81.30" y="221.20" width="6.00" height="12.69" fill="#f9c6aa"/>
<rect x="87.30" y="221.20" width="6.00" height="12.69" fill="#fde2d1"/>
<rect x="93.30" y="221.20" width="6.00" height="12.69" fill="#efebe9"/>
<rect x="99.30" y="221.20" width="6.00" height="12.69" fill="#fde2d1"/>
<rect x="105.30" y="221.20" width="6.00" height="12.69" fill="#efebe9"/>
<rect x="111.30" y="221.20" width="6.00" height="12.69" fill="#f5ab89"/>
<rect x="117.30" y="221.20" width="6.00" height="12.69" fill="#fde2d1"/>
<rect x="123.30" y="221.20" width="6.00" height="12.69" fill="#f5ab89"/>
<rect x="129.30" y="221.20" width="6.00" height="12.69" fill="#e77f65"/>
<rect x="135.30" y="221.20" width="6.00" height="12.69" fill="#f5ab89"/>
<rect x="141.30" y="221.20" width="6.00" height="12.69" fill="#fde2d1"/>
<rect x="147.30" y="221.20" width="6.00" height="12.69" fill="#d6e7f2"/>
<rect x="153.30" y="221.20" width="6.00" height="12.69" fill="#d6e7f2"/>
<rect x="159.30" y="221.20" width="6.00" height="12.69" fill="#d6e7f2"/>
<rect x="165.30" y="221.20" width="6.00" height="12.69" fill="#d6e7f2"/>
<rect x="171.30" y="221.20" width="6.00" height="12.69" fill="#efebe9"/>
<rect x="177.30" y="221.20" width="6.00" height="12.69" fill="#fde2d1"/>
<rect x="183.30" y="221.20" width="6.00" height="12.69" fill="#efebe9"/>
<rect x="189.30" y="221.20" width="6.00" height="12.69" fill="#d6e7f2"/>
<rect x="195.30" y="221.20" width="6.00" height="12.69" fill="#d6e7f2"/>
<rect x="201.30" y="221.20" width="6.00" height="12.69" fill="#d6e7f2"/>
<rect x="207.30" y="221.20" width="6.00" height="12.69" fill="#d6e7f2"/>
<rect x="213.30" y="221.20" width="6.00" height="12.69" fill="#fde2d1"/>
<rect x="219.30" y="221.20" width="6.00" height="12.69" fill="#efebe9"/>
<rect x="225.30" y="221.20" width="6.00" height="12.69" fill="#fde2d1"/>
<rect x="231.30" y="221.20" width="6.00" height="12.69" fill="#d6e7f2"/>
<rect x="237.30" y="221.20" width="6.00" height="12.69" fill="#d6e7f2"/>
<rect x="243.30" y="221.20" width="6.00" height="12.69" fill="#d6e7f2"/>
<rect x="249.30" y="221.20" width="6.00" height="12.69" fill="#d6e7f2"/>
<rect x="255.30" y="221.20" width="6.00" height="12.69" fill="#d6e7f2"/>
<rect x="261.30" y="221.20" width="6.00" height="12.69" fill="#d6e7f2"/>
<rect x="267.30" y="221.20" width="6.00" height="12.69" fill="#d6e7f2"/>
<rect x="273.30" y="221.20" width="6.00" height="12.69" fill="#d6e7f2"/>
<rect x="279.30" y="221.20" width="6.00" height="12.69" fill="#d6e7f2"/>
<rect x="285.30" y="221.20" width="6.00" height="12.69" fill="#d6e7f2"/>
<rect x="291.30" y="221.20" width="6.00" height="12.69" fill="#d6e7f2"/>
<rect x="297.30" y="221.20" width="6.00" height="12.69" fill="#d6e7f2"/>
<rect x="303.30" y="221.20" width="6.00" height="12.69" fill="#d6e7f2"/>
<rect x="309.30" y="221.20" width="6.00" height="12.69" fill="#d6e7f2"/>
<rect x="315.30" y="221.20" width="6.00" height="12.69" fill="#d6e7f2"/>
<rect x="45.30" y="233.89" width="6.00" height="12.69" fill="#e77f65"/>
<rect x="51.30" y="233.89" width="6.00" height="12.69" fill="#efebe9"/>
<rect x="57.30" y="233.89" width="6.00" height="12.69" fill="#fde2d1"/>
<rect x="63.30" y="233.89" width="6.00" height="12.69" fill="#fde2d1"/>
<rect x="69.30" y="233.89" width="6.00" height="12.69" fill="#f5ab89"/>
<rect x="75.30" y="233.89" width="6.00" height="12.69" fill="#fde2d1"/>
<rect x="81.30" y="233.89" width="6.00" height="12.69" fill="#fde2d1"/>
<rect x="87.30" y="233.89" width="6.00" height="12.69" fill="#efebe9"/>
<rect x="93.30" y="233.89" width="6.00" height="12.69" fill="#efebe9"/>
<rect x="99.30" y="233.89" width="6.00" height="12.69" fill="#fde2d1"/>
<rect x="105.30" y="233.89" width="6.00" height="12.69" fill="#fde2d1"/>
<rect x="111.30" y="233.89" width="6.00" height="12.69" fill="#f5ab89"/>
<rect x="117.30" y="233.89" width="6.00" height="12.69" fill="#e77f65"/>
<rect x="123.30" y="233.89" width="6.00" height="12.69" fill="#f5ab89"/>
<rect x="129.30" y="233.89" width="6.00" height="12.69" fill="#e77f65"/>
<rect x="135.30" y="233.89" width="6.00" height="12.69" fill="#f5ab89"/>
<rect x="141.30" y="233.89" width="6.00" height="12.69" fill="#fde2d1"/>
<rect x="147.30" y="233.89" width="6.00" height="12.69" fill="#d6e7f2"/>
<rect x="153.30" y="233.89" width="6.00" height="12.69" fill="#d6e7f2"/>
<rect x="159.30" y="233.89" width="6.00" height="12.69" fill="#d6e7f2"/>
<rect x="165.30" y="233.89" width="6.00" height="12.69" fill="#d6e7f2"/>
<rect x="171.30" y="233.89" width="6.00" height="12.69" fill="#fde2d1"/>
<rect x="177.30" y="233.89" width="6.00" height="12.69" fill="#efebe9"/>
<rect x="183.30" y="233.89" width="6.00" height="12.69" fill="#efebe9"/>
<rect x="189.30" y="233.89" width="6.00" height="12.69" fill="#efebe9"/>
<rect x="195.30" y="233.89" width="6.00" height="12.69" fill="#efebe9"/>
<rect x="201.30" y="233.89" width="6.00" height="12.69" fill="#efebe9"/>
<rect x="207.30" y="233.89" width="6.00" height="12.69" fill="#efebe9"/>
<rect x="213.30" y="233.89" width="6.00" height="12.69" fill="#fde2d1"/>
<rect x="219.30" y="233.89" width="6.00" height="12.69" fill="#efebe9"/>
<rect x="225.30" y="233.89" width="6.00" height="12.69" fill="#fde2d1"/>
<rect x="231.30" y="233.89" width="6.00" height="12.69" fill="#efebe9"/>
<rect x="237.30" y="233.89" width="6.00" height="12.69" fill="#d6e7f2"/>
<rect x="243.30" y="233.89" width="6.00" height="12.69" fill="#d6e7f2"/>
<rect x="249.30" y="233.89" width="6.00" height="12.69" fill="#d6e7f2"/>
<rect x="255.30" y="233.89" width="6.00" height="12.69" fill="#d6e7f2"/>
<rect x="261.30" y="233.89" width="6.00" height="12.69" fill="#d6e7f2"/>
<rect x="267.30" y="233.89" width="6.00" height="12.69" fill="#d6e7f2"/>
<rect x="273.30" y="233.89" width="6.00" height="12.69" fill="#d6e7f2"/>
<rect x="279.30" y="233.89" width="6.00" height="12.69" fill="#d6e7f2"/>
<rect x="285.30" y="233.89" width="6.00" height="12.69" fill="#d6e7f2"/>
<rect x="291.30" y="233.89" width="6.00" height="12.69" fill="#d6e7f2"/>
<rect x="297.30" y="233.89" width="6.00" height="12.69" fill="#d6e7f2"/>
<rect x="303.30" y="233.89" width="6.00" height="12.69" fill="#d6e7f2"/>
<rect x="309.30" y="233.89" width="6.00" height="12.69" fill="#d6e7f2"/>
<rect x="315.30" y="233.89" width="6.00" height="12.69" fill="#d6e7f2"/>
<rect x="45.30" y="246.57" width="6.00" height="12.69" fill="#e77f65"/>
<rect x="51.30" y="246.57" width="6.00" height="12.69" fill="#8a0c28"/>
<rect x="57.30" y="246.57" width="6.00" height="12.69" fill="#e77f65"/>
<rect x="63.30" y="246.57" width="6.00" height="12.69" fill="#efebe9"/>
<rect x="69.30" y="246.57" width="6.00" height="12.69" fill="#efebe9"/>
<rect x="75.30" y="246.57" width="6.00" height="12.69" fill="#fde2d1"/>
<rect x="81.30" y="246.57" width="6.00" height="12.69" fill="#efebe9"/>
<rect x="87.30" y="246.57" width="6.00" height="12.69" fill="#d6e7f2"/>
<rect x="93.30" y="246.57" width="6.00" height="12.69" fill="#d6e7f2"/>
<rect x="99.30" y="246.57" width="6.00" height="12.69" fill="#efebe9"/>
<rect x="105.30" y="246.57" width="6.00" height="12.69" fill="#efebe9"/>
<rect x="111.30" y="246.57" width="6.00" height="12.69" fill="#efebe9"/>
<rect x="117.30" y="246.57" width="6.00" height="12.69" fill="#d6e7f2"/>
<rect x="123.30" y="246.57" width="6.00" height="12.69" fill="#efebe9"/>
<rect x="129.30" y="246.57" width="6.00" height="12.69" fill="#efebe9"/>
<rect x="135.30" y="246.57" width="6.00" height="12.69" fill="#fde2d1"/>
<rect x="141.30" y="246.57" width="6.00" height="12.69" fill="#efebe9"/>
<rect x="147.30" y="246.57" width="6.00" height="12.69" fill="#f5ab89"/>
<rect x="153.30" y="246.57" width="6.00" height="12.69" fill="#fde2d1"/>
<rect x="159.30" y="246.57" width="6.00" height="12.69" fill="#d6e7f2"/>
<rect x="165.30" y="246.57" width="6.00" height="12.69" fill="#efebe9"/>
<rect x="171.30" y="246.57" width="6.00" height="12.69" fill="#efebe9"/>
<rect x="177.30" y="246.57" width="6.00" height="12.69" fill="#d6e7f2"/>
<rect x="183.30" y="246.57" width="6.00" height="12.69" fill="#d6e7f2"/>
<rect x="189.30" y="246.57" width="6.00" height="12.69" fill="#efebe9"/>
<rect x="195.30" y="246.57" width="6.00" height="12.69" fill="#efebe9"/>
<rect x="201.30" y="246.57" width="6.00" height="12.69" fill="#efebe9"/>
<rect x="207.30" y="246.57" width="6.00" height="12.69" fill="#fde2d1"/>
<rect x="213.30" y="246.57" width="6.00" height="12.69" fill="#fde2d1"/>
<rect x="219.30" y="246.57" width="6.00" height="12.69" fill="#efebe9"/>
<rect x="225.30" y="246.57" width="6.00" height="12.69" fill="#efebe9"/>
<rect x="231.30" y="246.57" width="6.00" height="12.69" fill="#d6e7f2"/>
<rect x="237.30" y="246.57" width="6.00" height="12.69" fill="#d6e7f2"/>
<rect x="243.30" y="246.57" width="6.00" height="12.69" fill="#d6e7f2"/>
<rect x="249.30" y="246.57" width="6.00" height="12.69" fill="#d6e7f2"/>
<rect x="255.30" y="246.57" width="6.00" height="12.69" fill="#fde2d1"/>
<rect x="261.30" y="246.57" width="6.00" height="12.69" fill="#d6e7f2"/>
<rect x="267.30" y="246.57" width="6.00" height="12.69" fill="#d6e7f2"/>
<rect x="273.30" y="246.57" width="6.00" height="12.69" fill="#efebe9"/>
<rect x="279.30" y="246.57" width="6.00" height="12.69" fill="#d6e7f2"/>
<rect x="285.30" y="246.57" width="6.00" height="12.69" fill="#d6e7f2"/>
<rect x="291.30" y="246.57" width="6.00" height="12.69" fill="#d6e7f2"/>
<rect x="297.30" y="246.57" width="6.00" height="12.69" fill="#d6e7f2"/>
<rect x="303.30" y="246.57" width="6.00" height="12.69" fill="#d6e7f2"/>
<rect x="309.30" y="246.57" width="6.00" height="12.69" fill="#efebe9"/>
<rect x="315.30" y="246.57" width="6.00" height="12.69" fill="#d6e7f2"/>
<rect x="45.30" y="259.26" width="6.00" height="12.69" fill="#e77f65"/>
<rect x="51.30" y="259.26" width="6.00" height="12.69" fill="#8a0c28"/>
<rect x="57.30" y="259.26" width="6.00" height="12.69" fill="#e77f65"/>
<rect x="63.30" y="259.26" width="6.00" height="12.69" fill="#efebe9"/>
<rect x="69.30" y="259.26" width="6.00" height="12.69" fill="#efebe9"/>
<rect x="75.30" y="259.26" width="6.00" height="12.69" fill="#efebe9"/>
<rect x="81.30" y="259.26" width="6.00" height="12.69" fill="#efebe9"/>
<rect x="87.30" y="259.26" width="6.00" height="12.69" fill="#d6e7f2"/>
<rect x="93.30" y="259.26" width="6.00" height="12.69" fill="#d6e7f2"/>
<rect x="99.30" y="259.26" width="6.00" height="12.69" fill="#efebe9"/>
<rect x="105.30" y="259.26" width="6.00" height="12.69" fill="#efebe9"/>
<rect x="111.30" y="259.26" width="6.00" height="12.69" fill="#efebe9"/>
<rect x="117.30" y="259.26" width="6.00" height="12.69" fill="#d6e7f2"/>
<rect x="123.30" y="259.26" width="6.00" height="12.69" fill="#efebe9"/>
<rect x="129.30" y="259.26" width="6.00" height="12.69" fill="#d6e7f2"/>
<rect x="135.30" y="259.26" width="6.00" height="12.69" fill="#fde2d1"/>
<rect x="141.30" y="259.26" width="6.00" height="12.69" fill="#fde2d1"/>
<rect x="147.30" y="259.26" width="6.00" height="12.69" fill="#f9c6aa"/>
<rect x="153.30" y="259.26" width="6.00" height="12.69" fill="#fde2d1"/>
<rect x="159.30" y="259.26" width="6.00" height="12.69" fill="#efebe9"/>
<rect x="165.30" y="259.26" width="6.00" height="12.69" fill="#fde2d1"/>
<rect x="171.30" y="259.26" width="6.00" height="12.69" fill="#efebe9"/>
<rect x="177.30" y="259.26" width="6.00" height="12.69" fill="#d6e7f2"/>
<rect x="183.30" y="259.26" width="6.00" height="12.69" fill="#d6e7f2"/>
<rect x="189.30" y="259.26" width="6.00" height="12.69" fill="#d6e7f2"/>
<rect x="195.30" y="259.26" width="6.00" height="12.69" fill="#efebe9"/>
<rect x="201.30" y="259.26" width="6.00" height="12.69" fill="#efebe9"/>
<rect x="207.30" y="259.26" width="6.00" height="12.69" fill="#f9c6aa"/>
<rect x="213.30" y="259.26" width="6.00" height="12.69" fill="#efebe9"/>
<rect x="219.30" y="259.26" width="6.00" height="12.69" fill="#efebe9"/>
<rect x="225.30" y="259.26" width="6.00" height="12.69" fill="#efebe9"/>
<rect x="231.30" y="259.26" width="6.00" height="12.69" fill="#d6e7f2"/>
<rect x="237.30" y="259.26" width="6.00" height="12.69" fill="#d6e7f2"/>
<rect x="243.30" y="259.26" width="6.00" height="12.69" fill="#d6e7f2"/>
<rect x="249.30" y="259.26" width="6.00" height="12.69" fill="#d6e7f2"/>
<rect x="255.30" y="259.26" width="6.00" height="12.69" fill="#fde2d1"/>
<rect x="261.30" y="259.26" width="6.00" height="12.69" fill="#d6e7f2"/>
<rect x="267.30" y="259.26" width="6.00" height="12.69" fill="#d6e7f2"/>
<rect x="273.30" y="259.26" width="6.00" height="12.69" fill="#efebe9"/>
<rect x="279.30" y="259.26" width="6.00" height="12.69" fill="#d6e7f2"/>
<rect x="285.30" y="259.26" width="6.00" height="12.69" fill="#d6e7f2"/>
<rect x="291.30" y="259.26" width="6.00" height="12.69" fill="#d6e7f2"/>
<rect x="297.30" y="259.26" width="6.00" height="12.69" fill="#d6e7f2"/>
<rect x="303.30" y="259.26" width="6.00" height="12.69" fill="#d6e7f2"/>
<rect x="309.30" y="259.26" width="6.00" height="12.69" fill="#efebe9"/>
<rect x="315.30" y="259.26" width="6.00" height="12.69" fill="#efebe9"/>
<rect x="45.30" y="271.94" width="6.00" height="12.69" fill="#f5ab89"/>
<rect x="51.30" y="271.94" width="6.00" height="12.69" fill="#c5303b"/>
<rect x="57.30" y="271.94" width="6.00" height="12.69" fill="#b21c30"/>
<rect x="63.30" y="271.94" width="6.00" height="12.69" fill="#efebe9"/>
<rect x="69.30" y="271.94" width="6.00" height="12.69" fill="#efebe9"/>
<rect x="75.30" y="271.94" width="6.00" height="12.69" fill="#fde2d1"/>
<rect x="81.30" y="271.94" width="6.00" height="12.69" fill="#efebe9"/>
<rect x="87.30" y="271.94" width="6.00" height="12.69" fill="#f9c6aa"/>
<rect x="93.30" y="271.94" width="6.00" height="12.69" fill="#d6e7f2"/>
<rect x="99.30" y="271.94" width="6.00" height="12.69" fill="#efebe9"/>
<rect x="105.30" y="271.94" width="6.00" height="12.69" fill="#efebe9"/>
<rect x="111.30" y="271.94" width="6.00" height="12.69" fill="#fde2d1"/>
<rect x="117.30" y="271.94" width="6.00" height="12.69" fill="#efebe9"/>
<rect x="123.30" y="271.94" width="6.00" height="12.69" fill="#fde2d1"/>
<rect x="129.30" y="271.94" width="6.00" height="12.69" fill="#efebe9"/>
<rect x="135.30" y="271.94" width="6.00" height="12.69" fill="#efebe9"/>
<rect x="141.30" y="271.94" width="6.00" height="12.69" fill="#d6e7f2"/>
<rect x="147.30" y="271.94" width="6.00" height="12.69" fill="#fde2d1"/>
<rect x="153.30" y="271.94" width="6.00" height="12.69" fill="#efebe9"/>
<rect x="159.30" y="271.94" width="6.00" height="12.69" fill="#fde2d1"/>
<rect x="165.30" y="271.94" width="6.00" height="12.69" fill="#efebe9"/>
<rect x="171.30" y="271.94" width="6.00" height="12.69" fill="#fde2d1"/>
<rect x="177.30" y="271.94" width="6.00" height="12.69" fill="#d6e7f2"/>
<rect x="183.30" y="271.94" width="6.00" height="12.69" fill="#d6e7f2"/>
<rect x="189.30" y="271.94" width="6.00" height="12.69" fill="#d6e7f2"/>
<rect x="195.30" y="271.94" width="6.00" height="12.69" fill="#d6e7f2"/>
<rect x="201.30" y="271.94" width="6.00" height="12.69" fill="#d6e7f2"/>
<rect x="207.30" y="271.94" width="6.00" height="12.69" fill="#d6e7f2"/>
<rect x="213.30" y="271.94" width="6.00" height="12.69" fill="#efebe9"/>
<rect x="219.30" y="271.94" width="6.00" height="12.69" fill="#efebe9"/>
<rect x="225.30" y="271.94" width="6.00" height="12.69" fill="#d6e7f2"/>
<rect x="231.30" y="271.94" width="6.00" height="12.69" fill="#d6e7f2"/>
<rect x="237.30" y="271.94" width="6.00" height="12.69" fill="#efebe9"/>
<rect x="243.30" y="271.94" width="6.00" height="12.69" fill="#fde2d1"/>
<rect x="249.30" y="271.94" width="6.00" height="12.69" fill="#d6e7f2"/>
<rect x="255.30" y="271.94" width="6.00" height="12.69" fill="#d6e7f2"/>
<rect x="261.30" y="271.94" width="6.00" height="12.69" fill="#efebe9"/>
<rect x="267.30" y="271.94" width="6.00" height="12.69" fill="#efebe9"/>
<rect x="273.30" y="271.94" width="6.00" height="12.69" fill="#efebe9"/>
<rect x="279.30" y="271.94" width="6.00" height="12.69" fill="#efebe9"/>
<rect x="285.30" y="271.94" width="6.00" height="12.69" fill="#d6e7f2"/>
<rect x="291.30" y="271.94" width="6.00" height="12.69" fill="#d6e7f2"/>
<rect x="297.30" y="271.94" width="6.00" height="12.69" fill="#efebe9"/>
<rect x="303.30" y="271.94" width="6.00" height="12.69" fill="#d6e7f2"/>
<rect x="309.30" y="271.94" width="6.00" height="12.69" fill="#efebe9"/>
<rect x="315.30" y="271.94" width="6.00" height="12.69" fill="#efebe9"/>
<rect x="45.30" y="284.63" width="6.00" height="12.69" fill="#dc604f"/>
<rect x="51.30" y="284.63" width="6.00" height="12.69" fill="#dc604f"/>
<rect x="57.30" y="284.63" width="6.00" height="12.69" fill="#b21c30"/>
<rect x="63.30" y="284.63" width="6.00" height="12.69" fill="#efebe9"/>
<rect x="69.30" y="284.63" width="6.00" height="12.69" fill="#efebe9"/>
<rect x="75.30" y="284.63" width="6.00" height="12.69" fill="#fde2d1"/>
<rect x="81.30" y="284.63" width="6.00" height="12.69" fill="#efebe9"/>
<rect x="87.30" y="284.63" width="6.00" height="12.69" fill="#d6e7f2"/>
<rect x="93.30" y="284.63" width="6.00" height="12.69" fill="#d6e7f2"/>
<rect x="99.30" y="284.63" width="6.00" height="12.69" fill="#d6e7f2"/>
<rect x="105.30" y="284.63" width="6.00" height="12.69" fill="#efebe9"/>
<rect x="111.30" y="284.63" width="6.00" height="12.69" fill="#fde2d1"/>
<rect x="117.30" y="284.63" width="6.00" height="12.69" fill="#efebe9"/>
<rect x="123.30" y="284.63" width="6.00" height="12.69" fill="#efebe9"/>
<rect x="129.30" y="284.63" width="6.00" height="12.69" fill="#d6e7f2"/>
<rect x="135.30" y="284.63" width="6.00" height="12.69" fill="#fde2d1"/>
<rect x="141.30" y="284.63" width="6.00" height="12.69" fill="#efebe9"/>
<rect x="147.30" y="284.63" width="6.00" height="12.69" fill="#f9c6aa"/>
<rect x="153.30" y="284.63" width="6.00" height="12.69" fill="#fde2d1"/>
<rect x="159.30" y="284.63" width="6.00" height="12.69" fill="#efebe9"/>
<rect x="165.30" y="284.63" width="6.00" height="12.69" fill="#fde2d1"/>
<rect x="171.30" y="284.63" width="6.00" height="12.69" fill="#efebe9"/>
<rect x="177.30" y="284.63" width="6.00" height="12.69" fill="#d6e7f2"/>
<rect x="183.30" y="284.63" width="6.00" height="12.69" fill="#d6e7f2"/>
<rect x="189.30" y="284.63" width="6.00" height="12.69" fill="#efebe9"/>
<rect x="195.30" y="284.63" width="6.00" height="12.69" fill="#efebe9"/>
<rect x="201.30" y="284.63" width="6.00" height="12.69" fill="#efebe9"/>
<rect x="207.30" y="284.63" width="6.00" height="12.69" fill="#efebe9"/>
<rect x="213.30" y="284.63" width="6.00" height="12.69" fill="#efebe9"/>
<rect x="219.30" y="284.63" width="6.00" height="12.69" fill="#efebe9"/>
<rect x="225.30" y="284.63" width="6.00" height="12.69" fill="#efebe9"/>
<rect x="231.30" y="284.63" width="6.00" height="12.69" fill="#d6e7f2"/>
<rect x="237.30" y="284.63" width="6.00" height="12.69" fill="#d6e7f2"/>
<rect x="243.30" y="284.63" width="6.00" height="12.69" fill="#d6e7f2"/>
<rect x="249.30" y="284.63" width="6.00" height="12.69" fill="#d6e7f2"/>
<rect x="255.30" y="284.63" width="6.00" height="12.69" fill="#fde2d1"/>
<rect x="261.30" y="284.63" width="6.00" height="12.69" fill="#d6e7f2"/>
<rect x="267.30" y="284.63" width="6.00" height="12.69" fill="#d6e7f2"/>
<rect x="273.30" y="284.63" width="6.00" height="12.69" fill="#efebe9"/>
<rect x="279.30" y="284.63" width="6.00" height="12.69" fill="#d6e7f2"/>
<rect x="285.30" y="284.63" width="6.00" height="12.69" fill="#d6e7f2"/>
<rect x="291.30" y="284.63" width="6.00" height="12.69" fill="#d6e7f2"/>
<rect x="297.30" y="284.63" width="6.00" height="12.69" fill="#efebe9"/>
<rect x="303.30" y="284.63" width="6.00" height="12.69" fill="#d6e7f2"/>
<rect x="309.30" y="284.63" width="6.00" height="12.69" fill="#efebe9"/>
<rect x="315.30" y="284.63" width="6.00" height="12.69" fill="#efebe9"/>
<rect x="45.30" y="297.31" width="6.00" height="12.69" fill="#f5ab89"/>
<rect x="51.30" y="297.31" width="6.00" height="12.69" fill="#e77f65"/>
<rect x="57.30" y="297.31" width="6.00" height="12.69" fill="#fde2d1"/>
<rect x="63.30" y="297.31" width="6.00" height="12.69" fill="#f9c6aa"/>
<rect x="69.30" y="297.31" width="6.00" height="12.69" fill="#efebe9"/>
<rect x="75.30" y="297.31" width="6.00" height="12.69" fill="#fde2d1"/>
<rect x="81.30" y="297.31" width="6.00" height="12.69" fill="#fde2d1"/>
<rect x="87.30" y="297.31" width="6.00" height="12.69" fill="#f5ab89"/>
<rect x="93.30" y="297.31" width="6.00" height="12.69" fill="#d6e7f2"/>
<rect x="99.30" y="297.31" width="6.00" height="12.69" fill="#f5ab89"/>
<rect x="105.30" y="297.31" width="6.00" height="12.69" fill="#efebe9"/>
<rect x="111.30" y="297.31" width="6.00" height="12.69" fill="#d6e7f2"/>
<rect x="117.30" y="297.31" width="6.00" height="12.69" fill="#efebe9"/>
<rect x="123.30" y="297.31" width="6.00" height="12.69" fill="#d6e7f2"/>
<rect x="129.30" y="297.31" width="6.00" height="12.69" fill="#efebe9"/>
<rect x="135.30" y="297.31" width="6.00" height="12.69" fill="#efebe9"/>
<rect x="141.30" y="297.31" width="6.00" height="12.69" fill="#dc604f"/>
<rect x="147.30" y="297.31" width="6.00" height="12.69" fill="#efebe9"/>
<rect x="153.30" y="297.31" width="6.00" height="12.69" fill="#efebe9"/>
<rect x="159.30" y="297.31" width="6.00" height="12.69" fill="#f5ab89"/>
<rect x="165.30" y="297.31" width="6.00" height="12.69" fill="#f9c6aa"/>
<rect x="171.30" y="297.31" width="6.00" height="12.69" fill="#f5ab89"/>
<rect x="177.30" y="297.31" width="6.00" height="12.69" fill="#d6e7f2"/>
<rect x="183.30" y="297.31" width="6.00" height="12.69" fill="#d6e7f2"/>
<rect x="189.30" y="297.31" width="6.00" height="12.69" fill="#fde2d1"/>
<rect x="195.30" y="297.31" width="6.00" height="12.69" fill="#efebe9"/>
<rect x="201.30" y="297.31" width="6.00" height="12.69" fill="#d6e7f2"/>
<rect x="207.30" y="297.31" width="6.00" height="12.69" fill="#efebe9"/>
<rect x="213.30" y="297.31" width="6.00" height="12.69" fill="#d6e7f2"/>
<rect x="219.30" y="297.31" width="6.00" height="12.69" fill="#efebe9"/>
<rect x="225.30" y="297.31" width="6.00" height="12.69" fill="#efebe9"/>
<rect x="231.30" y="297.31" width="6.00" height="12.69" fill="#fde2d1"/>
<rect x="237.30" y="297.31" width="6.00" height="12.69" fill="#d6e7f2"/>
<rect x="243.30" y="297.31" width="6.00" height="12.69" fill="#d6e7f2"/>
<rect x="249.30" y="297.31" width="6.00" height="12.69" fill="#d6e7f2"/>
<rect x="255.30" y="297.31" width="6.00" height="12.69" fill="#d6e7f2"/>
<rect x="261.30" y="297.31" width="6.00" height="12.69" fill="#efebe9"/>
<rect x="267.30" y="297.31" width="6.00" height="12.69" fill="#d6e7f2"/>
<rect x="273.30" y="297.31" width="6.00" height="12.69" fill="#d6e7f2"/>
<rect x="279.30" y="297.31" width="6.00" height="12.69" fill="#d6e7f2"/>
<rect x="285.30" y="297.31" width="6.00" height="12.69" fill="#d6e7f2"/>
<rect x="291.30" y="297.31" width="6.00" height="12.69" fill="#b3d5ea"/>
<rect x="297.30" y="297.31" width="6.00" height="12.69" fill="#efebe9"/>
<rect x="303.30" y="297.31" width="6.00" height="12.69" fill="#d6e7f2"/>
<rect x="309.30" y="297.31" width="6.00" height="12.69" fill="#d6e7f2"/>
<rect x="315.30" y="297.31" width="6.00" height="12.69" fill="#d6e7f2"/>
<rect x="45.30" y="310.00" width="6.00" height="12.69" fill="#f9c6aa"/>
<rect x="51.30" y="310.00" width="6.00" height="12.69" fill="#e77f65"/>
<rect x="57.30" y="310.00" width="6.00" height="12.69" fill="#d6e7f2"/>
<rect x="63.30" y="310.00" width="6.00" height="12.69" fill="#f9c6aa"/>
<rect x="69.30" y="310.00" width="6.00" height="12.69" fill="#fde2d1"/>
<rect x="75.30" y="310.00" width="6.00" height="12.69" fill="#fde2d1"/>
<rect x="81.30" y="310.00" width="6.00" height="12.69" fill="#f9c6aa"/>
<rect x="87.30" y="310.00" width="6.00" height="12.69" fill="#f5ab89"/>
<rect x="93.30" y="310.00" width="6.00" height="12.69" fill="#efebe9"/>
<rect x="99.30" y="310.00" width="6.00" height="12.69" fill="#f5ab89"/>
<rect x="105.30" y="310.00" width="6.00" height="12.69" fill="#fde2d1"/>
<rect x="111.30" y="310.00" width="6.00" height="12.69" fill="#d6e7f2"/>
<rect x="117.30" y="310.00" width="6.00" height="12.69" fill="#efebe9"/>
<rect x="123.30" y="310.00" width="6.00" height="12.69" fill="#efebe9"/>
<rect x="129.30" y="310.00" width="6.00" height="12.69" fill="#d6e7f2"/>
<rect x="135.30" y="310.00" width="6.00" height="12.69" fill="#efebe9"/>
<rect x="141.30" y="310.00" width="6.00" height="12.69" fill="#e77f65"/>
<rect x="147.30" y="310.00" width="6.00" height="12.69" fill="#fde2d1"/>
<rect x="153.30" y="310.00" width="6.00" height="12.69" fill="#efebe9"/>
<rect x="159.30" y="310.00" width="6.00" height="12.69" fill="#f5ab89"/>
<rect x="165.30" y="310.00" width="6.00" height="12.69" fill="#efebe9"/>
<rect x="171.30" y="310.00" width="6.00" height="12.69" fill="#efebe9"/>
<rect x="177.30" y="310.00" width="6.00" height="12.69" fill="#d6e7f2"/>
<rect x="183.30" y="310.00" width="6.00" height="12.69" fill="#d6e7f2"/>
<rect x="189.30" y="310.00" width="6.00" height="12.69" fill="#d6e7f2"/>
<rect x="195.30" y="310.00" width="6.00" height="12.69" fill="#d6e7f2"/>
<rect x="201.30" y="310.00" width="6.00" height="12.69" fill="#d6e7f2"/>
<rect x="207.30" y="310.00" width="6.00" height="12.69" fill="#d6e7f2"/>
<rect x="213.30" y="310.00" width="6.00" height="12.69" fill="#d6e7f2"/>
<rect x="219.30" y="310.00" width="6.00" height="12.69" fill="#d6e7f2"/>
<rect x="225.30" y="310.00" width="6.00" height="12.69" fill="#d6e7f2"/>
<rect x="231.30" y="310.00" width="6.00" height="12.69" fill="#d6e7f2"/>
<rect x="237.30" y="310.00" width="6.00" height="12.69" fill="#d6e7f2"/>
<rect x="243.30" y="310.00" width="6.00" height="12.69" fill="#d6e7f2"/>
<rect x="249.30" y="310.00" width="6.00" height="12.69" fill="#d6e7f2"/>
<rect x="255.30" y="310.00" width="6.00" height="12.69" fill="#efebe9"/>
<rect x="261.30" y="310.00" width="6.00" height="12.69" fill="#d6e7f2"/>
<rect x="267.30" y="310.00" width="6.00" height="12.69" fill="#d6e7f2"/>
<rect x="273.30" y="310.00" width="6.00" height="12.69" fill="#d6e7f2"/>
<rect x="279.30" y="310.00" width="6.00" height="12.69" fill="#efebe9"/>
<rect x="285.30" y="310.00" width="6.00" height="12.69" fill="#d6e7f2"/>
<rect x="291.30" y="310.00" width="6.00" height="12.69" fill="#d6e7f2"/>
<rect x="297.30" y="310.00" width="6.00" height="12.69" fill="#fde2d1"/>
<rect x="303.30" y="310.00" width="6.00" height="12.69" fill="#b3d5ea"/>
<rect x="309.30" y="310.00" width="6.00" height="12.69" fill="#d6e7f2"/>
<rect x="315.30" y="310.00" width="6.00" height="12.69" fill="#efebe9"/>
<rect x="45.30" y="322.69" width="6.00" height="12.69" fill="#f5ab89"/>
<rect x="51.30" y="322.69" width="6.00" height="12.69" fill="#e77f65"/>
<rect x="57.30" y="322.69" width="6.00" height="12.69" fill="#efebe9"/>
<rect x="63.30" y="322.69" width="6.00" height="12.69" fill="#f9c6aa"/>
<rect x="69.30" y="322.69" width="6.00" height="12.69" fill="#fde2d1"/>
<rect x="75.30" y="322.69" width="6.00" height="12.69" fill="#fde2d1"/>
<rect x="81.30" y="322.69" width="6.00" height="12.69" fill="#fde2d1"/>
<rect x="87.30" y="322.69" width="6.00" height="12.69" fill="#f5ab89"/>
<rect x="93.30" y="322.69" width="6.00" height="12.69" fill="#d6e7f2"/>
<rect x="99.30" y="322.69" width="6.00" height="12.69" fill="#f5ab89"/>
<rect x="105.30" y="322.69" width="6.00" height="12.69" fill="#efebe9"/>
<rect x="111.30" y="322.69" width="6.00" height="12.69" fill="#d6e7f2"/>
<rect x="117.30" y="322.69" width="6.00" height="12.69" fill="#efebe9"/>
<rect x="123.30" y="322.69" width="6.00" height="12.69" fill="#efebe9"/>
<rect x="129.30" y="322.69" width="6.00" height="12.69" fill="#efebe9"/>
<rect x="135.30" y="322.69" width="6.00" height="12.69" fill="#efebe9"/>
<rect x="141.30" y="322.69" width="6.00" height="12.69" fill="#f9c6aa"/>
<rect x="147.30" y="322.69" width="6.00" height="12.69" fill="#fde2d1"/>
<rect x="153.30" y="322.69" width="6.00" height="12.69" fill="#fde2d1"/>
<rect x="159.30" y="322.69" width="6.00" height="12.69" fill="#e77f65"/>
<rect x="165.30" y="322.69" width="6.00" height="12.69" fill="#f9c6aa"/>
<rect x="171.30" y="322.69" width="6.00" height="12.69" fill="#efebe9"/>
<rect x="177.30" y="322.69" width="6.00" height="12.69" fill="#d6e7f2"/>
<rect x="183.30" y="322.69" width="6.00" height="12.69" fill="#d6e7f2"/>
<rect x="189.30" y="322.69" width="6.00" height="12.69" fill="#d6e7f2"/>
<rect x="195.30" y="322.69" width="6.00" height="12.69" fill="#d6e7f2"/>
<rect x="201.30" y="322.69" width="6.00" height="12.69" fill="#b3d5ea"/>
<rect x="207.30" y="322.69" width="6.00" height="12.69" fill="#d6e7f2"/>
<rect x="213.30" y="322.69" width="6.00" height="12.69" fill="#b3d5ea"/>
<rect x="219.30" y="322.69" width="6.00" height="12.69" fill="#d6e7f2"/>
<rect x="225.30" y="322.69" width="6.00" height="12.69" fill="#d6e7f2"/>
<rect x="231.30" y="322.69" width="6.00" height="12.69" fill="#d6e7f2"/>
<rect x="237.30" y="322.69" width="6.00" height="12.69" fill="#d6e7f2"/>
<rect x="243.30" y="322.69" width="6.00" height="12.69" fill="#fde2d1"/>
<rect x="249.30" y="322.69" width="6.00" height="12.69" fill="#efebe9"/>
<rect x="255.30" y="322.69" width="6.00" height="12.69" fill="#d6e7f2"/>
<rect x="261.30" y="322.69" width="6.00" height="12.69" fill="#fde2d1"/>
<rect x="267.30" y="322.69" width="6.00" height="12.69" fill="#d6e7f2"/>
<rect x="273.30" y="322.69" width="6.00" height="12.69" fill="#d6e7f2"/>
<rect x="279.30" y="322.69" width="6.00" height="12.69" fill="#d6e7f2"/>
<rect x="285.30" y="322.69" width="6.00" height="12.69" fill="#d6e7f2"/>
<rect x="291.30" y="322.69" width="6.00" height="12.69" fill="#b3d5ea"/>
<rect x="297.30" y="322.69" width="6.00" height="12.69" fill="#efebe9"/>
<rect x="303.30" y="322.69" width="6.00" height="12.69" fill="#d6e7f2"/>
<rect x="309.30" y="322.69" width="6.00" height="12.69" fill="#d6e7f2"/>
<rect x="315.30" y="322.69" width="6.00" height="12.69" fill="#d6e7f2"/>
<rect x="45.30" y="335.37" width="6.00" height="12.69" fill="#f5ab89"/>
<rect x="51.30" y="335.37" width="6.00" height="12.69" fill="#f5ab89"/>
<rect x="57.30" y="335.37" width="6.00" height="12.69" fill="#d6e7f2"/>
<rect x="63.30" y="335.37" width="6.00" height="12.69" fill="#f9c6aa"/>
<rect x="69.30" y="335.37" width="6.00" height="12.69" fill="#efebe9"/>
<rect x="75.30" y="335.37" width="6.00" height="12.69" fill="#f9c6aa"/>
<rect x="81.30" y="335.37" width="6.00" height="12.69" fill="#fde2d1"/>
<rect x="87.30" y="335.37" width="6.00" height="12.69" fill="#f9c6aa"/>
<rect x="93.30" y="335.37" width="6.00" height="12.69" fill="#d6e7f2"/>
<rect x="99.30" y="335.37" width="6.00" height="12.69" fill="#efebe9"/>
<rect x="105.30" y="335.37" width="6.00" height="12.69" fill="#efebe9"/>
<rect x="111.30" y="335.37" width="6.00" height="12.69" fill="#d0423d"/>
<rect x="117.30" y="335.37" width="6.00" height="12.69" fill="#f9c6aa"/>
<rect x="123.30" y="335.37" width="6.00" height="12.69" fill="#fde2d1"/>
<rect x="129.30" y="335.37" width="6.00" height="12.69" fill="#efebe9"/>
<rect x="135.30" y="335.37" width="6.00" height="12.69" fill="#fde2d1"/>
<rect x="141.30" y="335.37" width="6.00" height="12.69" fill="#fde2d1"/>
<rect x="147.30" y="335.37" width="6.00" height="12.69" fill="#fde2d1"/>
<rect x="153.30" y="335.37" width="6.00" height="12.69" fill="#fde2d1"/>
<rect x="159.30" y="335.37" width="6.00" height="12.69" fill="#f9c6aa"/>
<rect x="165.30" y="335.37" width="6.00" height="12.69" fill="#fde2d1"/>
<rect x="171.30" y="335.37" width="6.00" height="12.69" fill="#fde2d1"/>
<rect x="177.30" y="335.37" width="6.00" height="12.69" fill="#b3d5ea"/>
<rect x="183.30" y="335.37" width="6.00" height="12.69" fill="#b3d5ea"/>
<rect x="189.30" y="335.37" width="6.00" height="12.69" fill="#d6e7f2"/>
<rect x="195.30" y="335.37" width="6.00" height="12.69" fill="#efebe9"/>
<rect x="201.30" y="335.37" width="6.00" height="12.69" fill="#d6e7f2"/>
<rect x="207.30" y="335.37" width="6.00" height="12.69" fill="#d6e7f2"/>
<rect x="213.30" y="335.37" width="6.00" height="12.69" fill="#d6e7f2"/>
<rect x="219.30" y="335.37" width="6.00" height="12.69" fill="#efebe9"/>
<rect x="225.30" y="335.37" width="6.00" height="12.69" fill="#d6e7f2"/>
<rect x="231.30" y="335.37" width="6.00" height="12.69" fill="#d6e7f2"/>
<rect x="237.30" y="335.37" width="6.00" height="12.69" fill="#efebe9"/>
<rect x="243.30" y="335.37" width="6.00" height="12.69" fill="#efebe9"/>
<rect x="249.30" y="335.37" width="6.00" height="12.69" fill="#efebe9"/>
<rect x="255.30" y="335.37" width="6.00" height="12.69" fill="#efebe9"/>
<rect x="261.30" y="335.37" width="6.00" height="12.69" fill="#d6e7f2"/>
<rect x="267.30" y="335.37" width="6.00" height="12.69" fill="#d6e7f2"/>
<rect x="273.30" y="335.37" width="6.00" height="12.69" fill="#d6e7f2"/>
<rect x="279.30" y="335.37" width="6.00" height="12.69" fill="#d6e7f2"/>
<rect x="285.30" y="335.37" width="6.00" height="12.69" fill="#d6e7f2"/>
<rect x="291.30" y="335.37" width="6.00" height="12.69" fill="#d6e7f2"/>
<rect x="297.30" y="335.37" width="6.00" height="12.69" fill="#d6e7f2"/>
<rect x="303.30" y="335.37" width="6.00" height="12.69" fill="#b3d5ea"/>
<rect x="309.30" y="335.37" width="6.00" height="12.69" fill="#d6e7f2"/>
<rect x="315.30" y="335.37" width="6.00" height="12.69" fill="#d6e7f2"/>
<rect x="45.30" y="348.06" width="6.00" height="12.69" fill="#fde2d1"/>
<rect x="51.30" y="348.06" width="6.00" height="12.69" fill="#efebe9"/>
<rect x="57.30" y="348.06" width="6.00" height="12.69" fill="#d6e7f2"/>
<rect x="63.30" y="348.06" width="6.00" height="12.69" fill="#f5ab89"/>
<rect x="69.30" y="348.06" width="6.00" height="12.69" fill="#d6e7f2"/>
<rect x="75.30" y="348.06" width="6.00" height="12.69" fill="#fde2d1"/>
<rect x="81.30" y="348.06" width="6.00" height="12.69" fill="#f9c6aa"/>
<rect x="87.30" y="348.06" width="6.00" height="12.69" fill="#f9c6aa"/>
<rect x="93.30" y="348.06" width="6.00" height="12.69" fill="#d6e7f2"/>
<rect x="99.30" y="348.06" width="6.00" height="12.69" fill="#f9c6aa"/>
<rect x="105.30" y="348.06" width="6.00" height="12.69" fill="#fde2d1"/>
<rect x="111.30" y="348.06" width="6.00" height="12.69" fill="#e77f65"/>
<rect x="117.30" y="348.06" width="6.00" height="12.69" fill="#e77f65"/>
<rect x="123.30" y="348.06" width="6.00" height="12.69" fill="#fde2d1"/>
<rect x="129.30" y="348.06" width="6.00" height="12.69" fill="#fde2d1"/>
<rect x="135.30" y="348.06" width="6.00" height="12.69" fill="#fde2d1"/>
<rect x="141.30" y="348.06" width="6.00" height="12.69" fill="#d6e7f2"/>
<rect x="147.30" y="348.06" width="6.00" height="12.69" fill="#fde2d1"/>
<rect x="153.30" y="348.06" width="6.00" height="12.69" fill="#f9c6aa"/>
<rect x="159.30" y="348.06" width="6.00" height="12.69" fill="#f9c6aa"/>
<rect x="165.30" y="348.06" width="6.00" height="12.69" fill="#efebe9"/>
<rect x="171.30" y="348.06" width="6.00" height="12.69" fill="#d6e7f2"/>
<rect x="177.30" y="348.06" width="6.00" height="12.69" fill="#d6e7f2"/>
<rect x="183.30" y="348.06" width="6.00" height="12.69" fill="#d6e7f2"/>
<rect x="189.30" y="348.06" width="6.00" height="12.69" fill="#d6e7f2"/>
<rect x="195.30" y="348.06" width="6.00" height="12.69" fill="#d6e7f2"/>
<rect x="201.30" y="348.06" width="6.00" height="12.69" fill="#d6e7f2"/>
<rect x="207.30" y="348.06" width="6.00" height="12.69" fill="#d6e7f2"/>
<rect x="213.30" y="348.06" width="6.00" height="12.69" fill="#d6e7f2"/>
<rect x="219.30" y="348.06" width="6.00" height="12.69" fill="#d6e7f2"/>
<rect x="225.30" y="348.06" width="6.00" height="12.69" fill="#d6e7f2"/>
<rect x="231.30" y="348.06" width="6.00" height="12.69" fill="#d6e7f2"/>
<rect x="237.30" y="348.06" width="6.00" height="12.69" fill="#efebe9"/>
<rect x="243.30" y="348.06" width="6.00" height="12.69" fill="#efebe9"/>
<rect x="249.30" y="348.06" width="6.00" height="12.69" fill="#fde2d1"/>
<rect x="255.30" y="348.06" width="6.00" height="12.69" fill="#f9c6aa"/>
<rect x="261.30" y="348.06" width="6.00" height="12.69" fill="#d6e7f2"/>
<rect x="267.30" y="348.06" width="6.00" height="12.69" fill="#d6e7f2"/>
<rect x="273.30" y="348.06" width="6.00" height="12.69" fill="#efebe9"/>
<rect x="279.30" y="348.06" width="6.00" height="12.69" fill="#d6e7f2"/>
<rect x="285.30" y="348.06" width="6.00" height="12.69" fill="#d6e7f2"/>
<rect x="291.30" y="348.06" width="6.00" height="12.69" fill="#d6e7f2"/>
<rect x="297.30" y="348.06" width="6.00" height="12.69" fill="#d6e7f2"/>
<rect x="303.30" y="348.06" width="6.00" height="12.69" fill="#d6e7f2"/>
<rect x="309.30" y="348.06" width="6.00" height="12.69" fill="#efebe9"/>
<rect x="315.30" y="348.06" width="6.00" height="12.69" fill="#efebe9"/>
<rect x="45.30" y="360.74" width="6.00" height="12.69" fill="#fde2d1"/>
<rect x="51.30" y="360.74" width="6.00" height="12.69" fill="#fde2d1"/>
<rect x="57.30" y="360.74" width="6.00" height="12.69" fill="#d6e7f2"/>
<rect x="63.30" y="360.74" width="6.00" height="12.69" fill="#f5ab89"/>
<rect x="69.30" y="360.74" width="6.00" height="12.69" fill="#efebe9"/>
<rect x="75.30" y="360.74" width="6.00" height="12.69" fill="#fde2d1"/>
<rect x="81.30" y="360.74" width="6.00" height="12.69" fill="#f9c6aa"/>
<rect x="87.30" y="360.74" width="6.00" height="12.69" fill="#f5ab89"/>
<rect x="93.30" y="360.74" width="6.00" height="12.69" fill="#efebe9"/>
<rect x="99.30" y="360.74" width="6.00" height="12.69" fill="#f9c6aa"/>
<rect x="105.30" y="360.74" width="6.00" height="12.69" fill="#fde2d1"/>
<rect x="111.30" y="360.74" width="6.00" height="12.69" fill="#e77f65"/>
<rect x="117.30" y="360.74" width="6.00" height="12.69" fill="#e77f65"/>
<rect x="123.30" y="360.74" width="6.00" height="12.69" fill="#fde2d1"/>
<rect x="129.30" y="360.74" width="6.00" height="12.69" fill="#f9c6aa"/>
<rect x="135.30" y="360.74" width="6.00" height="12.69" fill="#f9c6aa"/>
<rect x="141.30" y="360.74" width="6.00" height="12.69" fill="#d6e7f2"/>
<rect x="147.30" y="360.74" width="6.00" height="12.69" fill="#f9c6aa"/>
<rect x="153.30" y="360.74" width="6.00" height="12.69" fill="#fde2d1"/>
<rect x="159.30" y="360.74" width="6.00" height="12.69" fill="#fde2d1"/>
<rect x="165.30" y="360.74" width="6.00" height="12.69" fill="#efebe9"/>
<rect x="171.30" y="360.74" width="6.00" height="12.69" fill="#d6e7f2"/>
<rect x="177.30" y="360.74" width="6.00" height="12.69" fill="#d6e7f2"/>
<rect x="183.30" y="360.74" width="6.00" height="12.69" fill="#d6e7f2"/>
<rect x="189.30" y="360.74" width="6.00" height="12.69" fill="#d6e7f2"/>
<rect x="195.30" y="360.74" width="6.00" height="12.69" fill="#d6e7f2"/>
<rect x="201.30" y="360.74" width="6.00" height="12.69" fill="#d6e7f2"/>
<rect x="207.30" y="360.74" width="6.00" height="12.69" fill="#d6e7f2"/>
<rect x="213.30" y="360.74" width="6.00" height="12.69" fill="#d6e7f2"/>
<rect x="219.30" y="360.74" width="6.00" height="12.69" fill="#d6e7f2"/>
<rect x="225.30" y="360.74" width="6.00" height="12.69" fill="#d6e7f2"/>
<rect x="231.30" y="360.74" width="6.00" height="12.69" fill="#d6e7f2"/>
<rect x="237.30" y="360.74" width="6.00" height="12.69" fill="#d6e7f2"/>
<rect x="243.30" y="360.74" width="6.00" height="12.69" fill="#efebe9"/>
<rect x="249.30" y="360.74" width="6.00" height="12.69" fill="#efebe9"/>
<rect x="255.30" y="360.74" width="6.00" height="12.69" fill="#efebe9"/>
<rect x="261.30" y="360.74" width="6.00" height="12.69" fill="#efebe9"/>
<rect x="267.30" y="360.74" width="6.00" height="12.69" fill="#d6e7f2"/>
<rect x="273.30" y="360.74" width="6.00" height="12.69" fill="#efebe9"/>
<rect x="279.30" y="360.74" width="6.00" height="12.69" fill="#d6e7f2"/>
<rect x="285.30" y="360.74" width="6.00" height="12.69" fill="#d6e7f2"/>
<rect x="291.30" y="360.74" width="6.00" height="12.69" fill="#d6e7f2"/>
<rect x="297.30" y="360.74" width="6.00" height="12.69" fill="#d6e7f2"/>
<rect x="303.30" y="360.74" width="6.00" height="12.69" fill="#d6e7f2"/>
<rect x="309.30" y="360.74" width="6.00" height="12.69" fill="#d6e7f2"/>
<rect x="315.30" y="360.74" width="6.00" height="12.69" fill="#d6e7f2"/>
</g>
<g stroke="#cfcfcf" stroke-width="0.8">
<rect x="45.30" y="48.4" width="6.00" height="5.90" fill="#3dbb55"/>
<rect x="51.30" y="48.4" width="6.00" height="5.90" fill="#3dbb55"/>
<rect x="57.30" y="48.4" width="6.00" height="5.90" fill="#3dbb55"/>
<rect x="63.30" y="48.4" width="6.00" height="5.90" fill="#3dbb55"/>
<rect x="69.30" y="48.4" width="6.00" height="5.90" fill="#ee2a57"/>
<rect x="75.30" y="48.4" width="6.00" height="5.90" fill="#3dbb55"/>
<rect x="81.30" y="48.4" width="6.00" height="5.90" fill="#3dbb55"/>
<rect x="87.30" y="48.4" width="6.00" height="5.90" fill="#3dbb55"/>
<rect x="93.30" y="48.4" width="6.00" height="5.90" fill="#3dbb55"/>
<rect x="99.30" y="48.4" width="6.00" height="5.90" fill="#3dbb55"/>
<rect x="105.30" y="48.4" width="6.00" height="5.90" fill="#3dbb55"/>
<rect x="111.30" y="48.4" width="6.00" height="5.90" fill="#3dbb55"/>
<rect x="117.30" y="48.4" width="6.00" height="5.90" fill="#3dbb55"/>
<rect x="123.30" y="48.4" width="6.00" height="5.90" fill="#3dbb55"/>
<rect x="129.30" y="48.4" width="6.00" height="5.90" fill="#ee2a57"/>
<rect x="135.30" y="48.4" width="6.00" height="5.90" fill="#3dbb55"/>
<rect x="141.30" y="48.4" width="6.00" height="5.90" fill="#3dbb55"/>
<rect x="147.30" y="48.4" width="6.00" height="5.90" fill="#ee2a57"/>
<rect x="153.30" y="48.4" width="6.00" height="5.90" fill="#ee2a57"/>
<rect x="159.30" y="48.4" width="6.00" height="5.90" fill="#ee2a57"/>
<rect x="165.30" y="48.4" width="6.00" height="5.90" fill="#ee2a57"/>
<rect x="171.30" y="48.4" width="6.00" height="5.90" fill="#ee2a57"/>
<rect x="177.30" y="48.4" width="6.00" height="5.90" fill="#ee2a57"/>
<rect x="183.30" y="48.4" width="6.00" height="5.90" fill="#ee2a57"/>
<rect x="189.30" y="48.4" width="6.00" height="5.90" fill="#ee2a57"/>
<rect x="195.30" y="48.4" width="6.00" height="5.90" fill="#ee2a57"/>
<rect x="201.30" y="48.4" width="6.00" height="5.90" fill="#3dbb55"/>
<rect x="207.30" y="48.4" width="6.00" height="5.90" fill="#3dbb55"/>
<rect x="213.30" y="48.4" width="6.00" height="5.90" fill="#3dbb55"/>
<rect x="219.30" y="48.4" width="6.00" height="5.90" fill="#ee2a57"/>
<rect x="225.30" y="48.4" width="6.00" height="5.90" fill="#ee2a57"/>
<rect x="231.30" y="48.4" width="6.00" height="5.90" fill="#ee2a57"/>
<rect x="237.30" y="48.4" width="6.00" height="5.90" fill="#ee2a57"/>
<rect x="243.30" y="48.4" width="6.00" height="5.90" fill="#ee2a57"/>
<rect x="249.30" y="48.4" width="6.00" height="5.90" fill="#ee2a57"/>
<rect x="255.30" y="48.4" width="6.00" height="5.90" fill="#3dbb55"/>
<rect x="261.30" y="48.4" width="6.00" height="5.90" fill="#ee2a57"/>
<rect x="267.30" y="48.4" width="6.00" height="5.90" fill="#ee2a57"/>
<rect x="273.30" y="48.4" width="6.00" height="5.90" fill="#ee2a57"/>
<rect x="279.30" y="48.4" width="6.00" height="5.90" fill="#ee2a57"/>
<rect x="285.30" y="48.4" width="6.00" height="5.90" fill="#ee2a57"/>
<rect x="291.30" y="48.4" width="6.00" height="5.90" fill="#ee2a57"/>
<rect x="297.30" y="48.4" width="6.00" height="5.90" fill="#3dbb55"/>
<rect x="303.30" y="48.4" width="6.00" height="5.90" fill="#ee2a57"/>
<rect x="309.30" y="48.4" width="6.00" height="5.90" fill="#ee2a57"/>
<rect x="315.30" y="48.4" width="6.00" height="5.90" fill="#ee2a57"/>
</g>
<path d="M77.36,32.60V8.90H193.21V28.10 M52.80,40.20V32.60H101.93V39.20 M48.30,47.90V40.20H57.30V41.00 M54.30,47.90V41.00H60.30V47.90 M82.05,43.00V39.20H121.80V43.20 M70.80,44.50V43.00H93.30V44.00 M66.30,47.90V44.50H75.30V45.50 M72.30,47.90V45.50H78.30V47.90 M87.30,45.00V44.00H99.30V45.30 M84.30,47.90V45.00H90.30V47.90 M96.30,47.90V45.30H102.30V47.90 M112.80,44.20V43.20H130.80V44.80 M108.30,47.90V44.20H117.30V45.50 M114.30,47.90V45.50H120.30V47.90 M126.30,47.90V44.80H135.30V45.60 M132.30,47.90V45.60H138.30V47.90 M151.80,41.00V28.10H234.63V38.40 M144.30,47.90V41.00H159.30V42.60 M153.30,44.50V42.60H165.30V44.00 M150.30,47.90V44.50H156.30V47.90 M162.30,47.90V44.00H168.30V47.90 M208.05,43.30V38.40H261.21V42.40 M194.55,44.60V43.30H221.55V44.80 M183.30,45.30V44.60H205.80V45.00 M177.30,45.80V45.30H189.30V45.50 M174.30,47.90V45.80H180.30V47.90 M186.30,47.90V45.50H192.30V47.90 M201.30,45.60V45.00H210.30V47.90 M198.30,47.90V45.60H204.30V47.90 M216.30,47.90V44.80H226.80V45.30 M222.30,47.90V45.30H231.30V45.80 M228.30,47.90V45.80H234.30V47.90 M244.80,44.60V42.40H277.61V43.30 M240.30,47.90V44.60H249.30V45.40 M246.30,47.90V45.40H252.30V47.90 M262.80,44.30V43.30H292.43V44.00 M258.30,47.90V44.30H267.30V45.20 M264.30,47.90V45.20H270.30V47.90 M280.80,45.00V44.00H304.05V44.60 M276.30,47.90V45.00H285.30V45.60 M282.30,47.90V45.60H288.30V47.90 M297.30,45.30V44.60H310.80V45.50 M294.30,47.90V45.30H300.30V47.90 M306.30,47.90V45.50H315.30V45.90 M312.30,47.90V45.90H318.30V47.90" fill="none" stroke="#555555" stroke-width="1.3"/>
<path d="M36.50,84.05H10.80V238.85H20.30 M38.60,68.98H36.50V99.11H37.60 M45.00,62.64H38.60V75.33H45.00 M45.00,88.01H37.60V110.21H39.50 M45.00,100.70H39.50V119.72H41.00 M45.00,113.38H41.00V126.07H45.00 M35.70,175.62H20.30V302.07H26.00 M43.00,149.85H35.70V201.38H36.60 M45.00,138.75H43.00V160.95H43.50 M45.00,151.44H43.50V170.47H44.00 M45.00,164.12H44.00V176.81H45.00 M45.00,189.49H36.60V213.28H40.30 M45.00,202.18H40.30V224.38H42.00 M45.00,214.86H42.00V233.89H43.30 M45.00,227.55H43.30V240.23H45.00 M39.90,271.94H26.00V332.20H31.60 M42.80,259.26H39.90V284.63H41.70 M45.00,252.92H42.80V265.60H45.00 M45.00,278.29H41.70V290.97H45.00 M40.50,313.17H31.60V351.23H38.50 M45.00,303.66H40.50V322.68H42.00 M45.00,316.34H42.00V329.03H45.00 M45.00,341.71H38.50V360.74H42.40 M45.00,354.40H42.40V367.08H45.00" fill="none" stroke="#555555" stroke-width="1.3"/>
<text x="323.2" y="53.6" font-size="7.4" font-weight="bold" fill="#1f1f2e" textLength="15.0" lengthAdjust="spacingAndGlyphs">class</text>
<text x="323.1" y="65.14" font-size="7.6" fill="#1d2543" textLength="53.0" lengthAdjust="spacingAndGlyphs">10-Heneicosene (c,</text>
<text x="323.1" y="77.83" font-size="7.6" fill="#1d2543" textLength="52.2" lengthAdjust="spacingAndGlyphs">2,2,4,4-Tetramethy</text>
<text x="323.1" y="90.51" font-size="7.6" fill="#1d2543" textLength="49.5" lengthAdjust="spacingAndGlyphs">Ribitol, 5TMS deri</text>
<text x="323.1" y="103.20" font-size="7.6" fill="#1d2543" textLength="53.0" lengthAdjust="spacingAndGlyphs">2,3-Dihydroxy-2-me</text>
<text x="323.1" y="115.88" font-size="7.6" fill="#1d2543" textLength="51.6" lengthAdjust="spacingAndGlyphs">Octan-3-ol, O-TMS</text>
<text x="323.1" y="128.57" font-size="7.6" fill="#1d2543" textLength="52.6" lengthAdjust="spacingAndGlyphs">Benzenepropanoic a</text>
<text x="323.1" y="141.25" font-size="7.6" fill="#1d2543" textLength="53.6" lengthAdjust="spacingAndGlyphs">Nonadecanoic acid-</text>
<text x="323.1" y="153.94" font-size="7.6" fill="#1d2543" textLength="54.7" lengthAdjust="spacingAndGlyphs">Monolaurin, 2TMS d</text>
<text x="323.1" y="166.62" font-size="7.6" fill="#1d2543" textLength="53.6" lengthAdjust="spacingAndGlyphs">Heptadecanoic acid</text>
<text x="323.1" y="179.31" font-size="7.6" fill="#1d2543" textLength="53.6" lengthAdjust="spacingAndGlyphs">Pentadecanoic acid</text>
<text x="323.1" y="191.99" font-size="7.6" fill="#1d2543" textLength="52.2" lengthAdjust="spacingAndGlyphs">1-Monopalmitin, 2T</text>
<text x="323.1" y="204.68" font-size="7.6" fill="#1d2543" textLength="53.0" lengthAdjust="spacingAndGlyphs">2,3-Dihydroxypropy</text>
<text x="323.1" y="217.36" font-size="7.6" fill="#1d2543" textLength="52.6" lengthAdjust="spacingAndGlyphs">1-Monomyristin, 2T</text>
<text x="323.1" y="230.05" font-size="7.6" fill="#1d2543" textLength="52.6" lengthAdjust="spacingAndGlyphs">2-Monomyristin, 2T</text>
<text x="323.1" y="242.73" font-size="7.6" fill="#1d2543" textLength="55.1" lengthAdjust="spacingAndGlyphs">2-Monostearin, 2TM</text>
<text x="323.1" y="255.42" font-size="7.6" fill="#1d2543" textLength="46.4" lengthAdjust="spacingAndGlyphs">Trimethylsilylseri</text>
<text x="323.1" y="268.10" font-size="7.6" fill="#1d2543" textLength="55.1" lengthAdjust="spacingAndGlyphs">L-Norleucine, 2TMS</text>
<text x="323.1" y="280.79" font-size="7.6" fill="#1d2543" textLength="47.5" lengthAdjust="spacingAndGlyphs">2-Pyrrolidinone, T</text>
<text x="323.1" y="293.47" font-size="7.6" fill="#1d2543" textLength="45.9" lengthAdjust="spacingAndGlyphs">L-5-Oxoproline, .</text>
<text x="323.1" y="306.16" font-size="7.6" fill="#1d2543" textLength="53.1" lengthAdjust="spacingAndGlyphs">3,4-Dimethylbenzoi</text>
<text x="323.1" y="318.84" font-size="7.6" fill="#1d2543" textLength="45.9" lengthAdjust="spacingAndGlyphs">2-tert-Butyl-4-eth</text>
<text x="323.1" y="331.53" font-size="7.6" fill="#1d2543" textLength="48.0" lengthAdjust="spacingAndGlyphs">benzoic acid, 3,5-</text>
<text x="323.1" y="344.21" font-size="7.6" fill="#1d2543" textLength="53.1" lengthAdjust="spacingAndGlyphs">Hymexazole, tert-b</text>
<text x="323.1" y="356.90" font-size="7.6" fill="#1d2543" textLength="53.1" lengthAdjust="spacingAndGlyphs">Pimelic acid, 2TMS</text>
<text x="323.1" y="369.58" font-size="7.6" fill="#1d2543" textLength="53.1" lengthAdjust="spacingAndGlyphs">Suberic acid, 2TMS</text>
<defs><linearGradient id="rdbu" x1="0" y1="0" x2="0" y2="1">
<stop offset="0" stop-color="#67001f"/>
<stop offset="0.1" stop-color="#b2182b"/>
<stop offset="0.25" stop-color="#d6604d"/>
<stop offset="0.38" stop-color="#f4a582"/>
<stop offset="0.45" stop-color="#fddbc7"/>
<stop offset="0.5" stop-color="#f7f7f7"/>
<stop offset="0.55" stop-color="#d1e5f0"/>
<stop offset="0.62" stop-color="#92c5de"/>
<stop offset="0.75" stop-color="#4393c3"/>
<stop offset="0.9" stop-color="#2166ac"/>
<stop offset="1" stop-color="#053061"/>
</linearGradient></defs>
<rect x="381.9" y="46.8" width="7.0" height="111.4" fill="url(#rdbu)"/>
<text x="390.9" y="62.3" font-size="6.6" fill="#3a3f55">4</text>
<text x="390.9" y="82.8" font-size="6.6" fill="#3a3f55">2</text>
<text x="390.9" y="105.5" font-size="6.6" fill="#3a3f55">0</text>
<text x="390.9" y="126.6" font-size="6.6" fill="#3a3f55">-2</text>
<text x="390.9" y="148.2" font-size="6.6" fill="#3a3f55">-4</text>
<rect x="399.2" y="55.5" width="8.9" height="9.6" fill="#ee2a57"/>
<rect x="399.2" y="65.1" width="8.9" height="10.1" fill="#3dbb55"/>
<text x="414.2" y="62.6" font-size="10" fill="#2b2b2b" textLength="46.9" lengthAdjust="spacingAndGlyphs">COVI<tspan fill="#858585">D-19</tspan></text>
<text x="414.8" y="76.1" font-size="9.5" fill="#2b2b2b" textLength="41.8" lengthAdjust="spacingAndGlyphs">HEAL<tspan fill="#858585">THY</tspan></text>
<text transform="translate(13.0,48.8) scale(0.86,1)" x="0" y="0" font-size="27.5" fill="#111" stroke="#111" stroke-width="0.5">a</text>
<text transform="translate(464.6,48.9) scale(0.9,1)" x="0" y="0" font-size="28" fill="#111" stroke="#fff" stroke-width="0.3">b</text>
<text x="528.3" y="87.7" font-size="13.5" fill="#161616" textLength="147.2" lengthAdjust="spacing">COVID-19 vs HEALTHY</text>
<g stroke="#8a8a8a" stroke-width="1.3" stroke-dasharray="1.4 2.75" fill="none">
<path d="M641.1,105.8V298"/>
<path d="M679.0,105.8V298"/>
<path d="M460.0,249.0H742"/>
</g>
<path d="M460,299.0H743.5" stroke="#222" stroke-width="1.5" fill="none"/>
<path d="M742.8,105.6V299.5" stroke="#222" stroke-width="1.4" fill="none"/>
<path d="M493.60,299.0V302.8" stroke="#222" stroke-width="1.3"/>
<text x="493.60" y="313.9" font-size="10.3" fill="#2a2a2a" text-anchor="middle">-1.0</text>
<path d="M576.70,299.0V302.8" stroke="#222" stroke-width="1.3"/>
<text x="576.70" y="313.9" font-size="10.3" fill="#2a2a2a" text-anchor="middle">-0.5</text>
<path d="M659.80,299.0V302.8" stroke="#222" stroke-width="1.3"/>
<text x="659.80" y="313.9" font-size="10.3" fill="#2a2a2a" text-anchor="middle">0.0</text>
<path d="M742.90,299.0V302.8" stroke="#222" stroke-width="1.3"/>
<text x="742.90" y="313.9" font-size="10.3" fill="#2a2a2a" text-anchor="middle">0.5</text>
<path d="M742.8,298.90H746.8" stroke="#222" stroke-width="1.3"/>
<text x="749.4" y="302.10" font-size="10.3" fill="#2a2a2a">0</text>
<path d="M742.8,221.80H746.8" stroke="#222" stroke-width="1.3"/>
<text x="749.4" y="225.00" font-size="10.3" fill="#2a2a2a">2</text>
<path d="M742.8,144.70H746.8" stroke="#222" stroke-width="1.3"/>
<text x="749.4" y="147.90" font-size="10.3" fill="#2a2a2a">4</text>
<text x="556.3" y="330.0" font-size="10.2" fill="#1a1a1a" stroke="#1a1a1a" stroke-width="0.1" textLength="89.8" lengthAdjust="spacing">Log Fold change</text>
<text transform="translate(778.4,165.8) rotate(90)" x="0" y="0" font-size="10.2" fill="#1a1a1a" textLength="72.0" lengthAdjust="spacing">-Log(p-value)</text>
<g fill="#000">
<circle cx="547.7" cy="158.6" r="1.6"/>
<circle cx="577.5" cy="162.5" r="1.6"/>
<circle cx="589.0" cy="170.9" r="1.6"/>
<circle cx="568.0" cy="175.1" r="1.6"/>
<circle cx="593.0" cy="188.3" r="1.6"/>
<circle cx="588.7" cy="205.6" r="1.6"/>
<circle cx="600.0" cy="206.7" r="1.6"/>
<circle cx="619.5" cy="220.3" r="1.6"/>
<circle cx="592.2" cy="229.0" r="1.6"/>
<circle cx="594.9" cy="233.4" r="1.6"/>
<circle cx="632.0" cy="234.9" r="1.6"/>
<circle cx="630.7" cy="238.6" r="1.6"/>
<circle cx="603.8" cy="241.6" r="1.6"/>
<circle cx="608.2" cy="241.6" r="1.6"/>
<circle cx="605.0" cy="244.1" r="1.6"/>
<circle cx="560.6" cy="252.2" r="1.6"/>
<circle cx="580.9" cy="250.5" r="1.6"/>
<circle cx="600.2" cy="248.2" r="1.6"/>
<circle cx="604.0" cy="250.1" r="1.6"/>
<circle cx="605.5" cy="252.9" r="1.6"/>
<circle cx="611.7" cy="251.9" r="1.6"/>
<circle cx="615.5" cy="251.1" r="1.6"/>
<circle cx="617.0" cy="253.0" r="1.6"/>
<circle cx="618.7" cy="248.3" r="1.6"/>
<circle cx="624.6" cy="250.4" r="1.6"/>
<circle cx="629.9" cy="248.0" r="1.6"/>
<circle cx="632.4" cy="250.3" r="1.6"/>
<circle cx="585.9" cy="258.2" r="1.6"/>
<circle cx="603.4" cy="255.3" r="1.6"/>
<circle cx="605.2" cy="258.2" r="1.6"/>
<circle cx="612.6" cy="256.8" r="1.6"/>
<circle cx="614.6" cy="258.5" r="1.6"/>
<circle cx="621.2" cy="256.7" r="1.6"/>
<circle cx="626.1" cy="258.4" r="1.6"/>
<circle cx="594.2" cy="263.4" r="1.6"/>
<circle cx="605.4" cy="262.9" r="1.6"/>
<circle cx="620.3" cy="264.4" r="1.6"/>
<circle cx="625.2" cy="262.4" r="1.6"/>
<circle cx="630.2" cy="262.3" r="1.6"/>
<circle cx="631.3" cy="263.6" r="1.6"/>
<circle cx="644.4" cy="262.4" r="1.6"/>
<circle cx="613.5" cy="267.9" r="1.6"/>
<circle cx="630.2" cy="267.1" r="1.6"/>
<circle cx="580.6" cy="275.8" r="1.6"/>
<circle cx="591.6" cy="271.9" r="1.6"/>
<circle cx="591.6" cy="277.2" r="1.6"/>
<circle cx="577.6" cy="271.1" r="1.6"/>
<circle cx="580.2" cy="275.9" r="1.6"/>
<circle cx="576.7" cy="279.3" r="1.6"/>
<circle cx="480.0" cy="278.9" r="1.6"/>
<circle cx="620.5" cy="269.5" r="1.6"/>
<circle cx="619.0" cy="274.9" r="1.6"/>
<circle cx="622.5" cy="274.5" r="1.6"/>
<circle cx="629.9" cy="272.4" r="1.6"/>
<circle cx="633.0" cy="274.5" r="1.6"/>
<circle cx="637.4" cy="276.7" r="1.6"/>
<circle cx="644.9" cy="271.7" r="1.6"/>
<circle cx="642.9" cy="275.5" r="1.6"/>
<circle cx="647.0" cy="276.3" r="1.6"/>
<circle cx="646.1" cy="279.9" r="1.6"/>
<circle cx="632.6" cy="283.6" r="1.6"/>
<circle cx="633.9" cy="284.6" r="1.6"/>
<circle cx="636.7" cy="286.9" r="1.6"/>
<circle cx="638.6" cy="288.7" r="1.6"/>
<circle cx="640.4" cy="283.0" r="1.6"/>
<circle cx="642.2" cy="285.3" r="1.6"/>
<circle cx="648.0" cy="287.3" r="1.6"/>
<circle cx="649.4" cy="288.9" r="1.6"/>
<circle cx="645.6" cy="291.2" r="1.6"/>
<circle cx="653.7" cy="290.4" r="1.6"/>
<circle cx="654.6" cy="292.0" r="1.6"/>
<circle cx="653.3" cy="295.2" r="1.6"/>
<circle cx="655.4" cy="296.2" r="1.6"/>
<circle cx="657.4" cy="295.2" r="1.6"/>
<circle cx="658.9" cy="297.2" r="1.6"/>
<circle cx="660.4" cy="298.1" r="1.6"/>
<circle cx="654.3" cy="297.6" r="1.6"/>
<circle cx="663.0" cy="297.1" r="1.6"/>
<circle cx="664.5" cy="296.0" r="1.6"/>
<circle cx="664.0" cy="293.0" r="1.6"/>
<circle cx="665.6" cy="291.9" r="1.6"/>
<circle cx="666.6" cy="289.8" r="1.6"/>
<circle cx="668.1" cy="288.8" r="1.6"/>
<circle cx="669.7" cy="287.3" r="1.6"/>
<circle cx="665.1" cy="295.0" r="1.6"/>
<circle cx="667.1" cy="283.1" r="1.6"/>
<circle cx="668.4" cy="281.6" r="1.6"/>
<circle cx="669.7" cy="280.6" r="1.6"/>
<circle cx="671.2" cy="279.5" r="1.6"/>
<circle cx="672.1" cy="278.5" r="1.6"/>
<circle cx="673.3" cy="281.1" r="1.6"/>
<circle cx="672.8" cy="288.3" r="1.6"/>
<circle cx="675.4" cy="289.3" r="1.6"/>
<circle cx="669.2" cy="273.9" r="1.6"/>
<circle cx="670.7" cy="272.3" r="1.6"/>
<circle cx="672.3" cy="271.3" r="1.6"/>
<circle cx="674.8" cy="275.4" r="1.6"/>
<circle cx="671.8" cy="266.1" r="1.6"/>
<circle cx="673.3" cy="265.1" r="1.6"/>
<circle cx="674.8" cy="265.6" r="1.6"/>
<circle cx="673.3" cy="262.0" r="1.6"/>
<circle cx="678.5" cy="262.6" r="1.6"/>
<circle cx="679.3" cy="264.0" r="1.6"/>
<circle cx="679.0" cy="269.3" r="1.6"/>
<circle cx="681.4" cy="271.0" r="1.6"/>
<circle cx="675.9" cy="271.8" r="1.6"/>
<circle cx="680.5" cy="275.0" r="1.6"/>
<circle cx="676.9" cy="280.6" r="1.6"/>
<circle cx="682.0" cy="273.6" r="1.6"/>
<circle cx="677.5" cy="280.3" r="1.6"/>
<circle cx="686.9" cy="265.9" r="1.6"/>
<circle cx="689.3" cy="281.7" r="1.6"/>
<circle cx="693.0" cy="278.3" r="1.6"/>
<circle cx="693.8" cy="280.9" r="1.6"/>
<circle cx="695.3" cy="268.3" r="1.6"/>
<circle cx="711.2" cy="283.8" r="1.6"/>
<circle cx="706.6" cy="260.3" r="1.6"/>
<circle cx="688.9" cy="256.2" r="1.6"/>
<circle cx="681.6" cy="257.2" r="1.6"/>
<circle cx="676.1" cy="255.5" r="1.6"/>
<circle cx="676.9" cy="257.7" r="1.6"/>
<circle cx="681.8" cy="257.1" r="1.6"/>
<circle cx="672.8" cy="261.5" r="1.6"/>
<circle cx="678.6" cy="262.1" r="1.6"/>
<circle cx="674.3" cy="266.2" r="1.6"/>
<circle cx="687.0" cy="265.8" r="1.6"/>
<circle cx="695.4" cy="267.6" r="1.6"/>
<circle cx="671.3" cy="249.1" r="1.6"/>
<circle cx="674.5" cy="246.9" r="1.6"/>
<circle cx="677.7" cy="240.7" r="1.6"/>
<circle cx="681.5" cy="250.2" r="1.6"/>
<circle cx="683.9" cy="250.2" r="1.6"/>
<circle cx="685.4" cy="234.6" r="1.6"/>
<circle cx="687.4" cy="238.9" r="1.6"/>
<circle cx="689.6" cy="226.6" r="1.6"/>
<circle cx="695.4" cy="232.5" r="1.6"/>
<circle cx="696.6" cy="232.6" r="1.6"/>
<circle cx="676.8" cy="240.8" r="1.6"/>
<circle cx="656.9" cy="292.2" r="1.6"/>
<circle cx="658.4" cy="290.1" r="1.6"/>
<circle cx="660.6" cy="290.9" r="1.6"/>
<circle cx="661.3" cy="287.2" r="1.6"/>
<circle cx="663.4" cy="287.4" r="1.6"/>
<circle cx="663.6" cy="284.1" r="1.6"/>
<circle cx="666.3" cy="284.6" r="1.6"/>
<circle cx="666.6" cy="281.1" r="1.6"/>
<circle cx="659.4" cy="295.3" r="1.6"/>
<circle cx="662.6" cy="292.1" r="1.6"/>
<circle cx="664.4" cy="291.8" r="1.6"/>
<circle cx="665.3" cy="289.2" r="1.6"/>
<circle cx="668.3" cy="288.9" r="1.6"/>
<circle cx="668.6" cy="285.1" r="1.6"/>
<circle cx="671.2" cy="285.9" r="1.6"/>
<circle cx="671.4" cy="287.9" r="1.6"/>
<circle cx="674.1" cy="287.2" r="1.6"/>
<circle cx="675.0" cy="290.6" r="1.6"/>
<circle cx="670.8" cy="269.6" r="1.6"/>
<circle cx="672.1" cy="277.3" r="1.6"/>
<circle cx="677.3" cy="273.5" r="1.6"/>
<circle cx="678.6" cy="277.3" r="1.6"/>
<circle cx="670.8" cy="288.9" r="1.6"/>
<circle cx="667.0" cy="294.1" r="1.6"/>
<circle cx="665.5" cy="280.0" r="1.6"/>
<circle cx="668.0" cy="277.5" r="1.6"/>
<circle cx="670.0" cy="276.0" r="1.6"/>
<circle cx="672.0" cy="282.5" r="1.6"/>
<circle cx="667.0" cy="293.5" r="1.6"/>
<circle cx="668.5" cy="291.5" r="1.6"/>
<circle cx="647.5" cy="288.5" r="1.6"/>
<circle cx="649.5" cy="290.5" r="1.6"/>
<circle cx="646.5" cy="291.5" r="1.6"/>
<circle cx="651.5" cy="292.5" r="1.6"/>
<circle cx="652.5" cy="294.5" r="1.6"/>
<circle cx="656.0" cy="293.5" r="1.6"/>
<circle cx="657.5" cy="292.8" r="1.6"/>
<circle cx="652.0" cy="297.5" r="1.6"/>
<circle cx="655.8" cy="298.0" r="1.6"/>
<circle cx="658.0" cy="298.3" r="1.6"/>
<circle cx="661.5" cy="296.5" r="1.6"/>
<circle cx="662.5" cy="298.0" r="1.6"/>
<circle cx="646.8" cy="278.0" r="1.6"/>
<circle cx="647.3" cy="280.5" r="1.6"/>
</g>
<g fill="#ff0000">
<ellipse cx="577.5" cy="116.8" rx="1.9" ry="1.5"/>
<ellipse cx="575.5" cy="148.6" rx="1.9" ry="1.5"/>
<ellipse cx="549.3" cy="152.6" rx="1.9" ry="1.5"/>
</g>
<text x="538.7" y="109.3" font-size="10.4" fill="#ff0000" stroke="#ff0000" stroke-width="0.2" textLength="83.6" lengthAdjust="spacing">1-monomyristin</text>
<text x="573.7" y="143.0" font-size="10.6" fill="#ff0000" stroke="#ff0000" stroke-width="0.2" textLength="83.6" lengthAdjust="spacing">2-monomyristin</text>
<text x="480.3" y="147.8" font-size="11" font-weight="bold" fill="#ff0000" textLength="59.9" lengthAdjust="spacingAndGlyphs">Monolaurin</text>
</svg>
</body></html>
